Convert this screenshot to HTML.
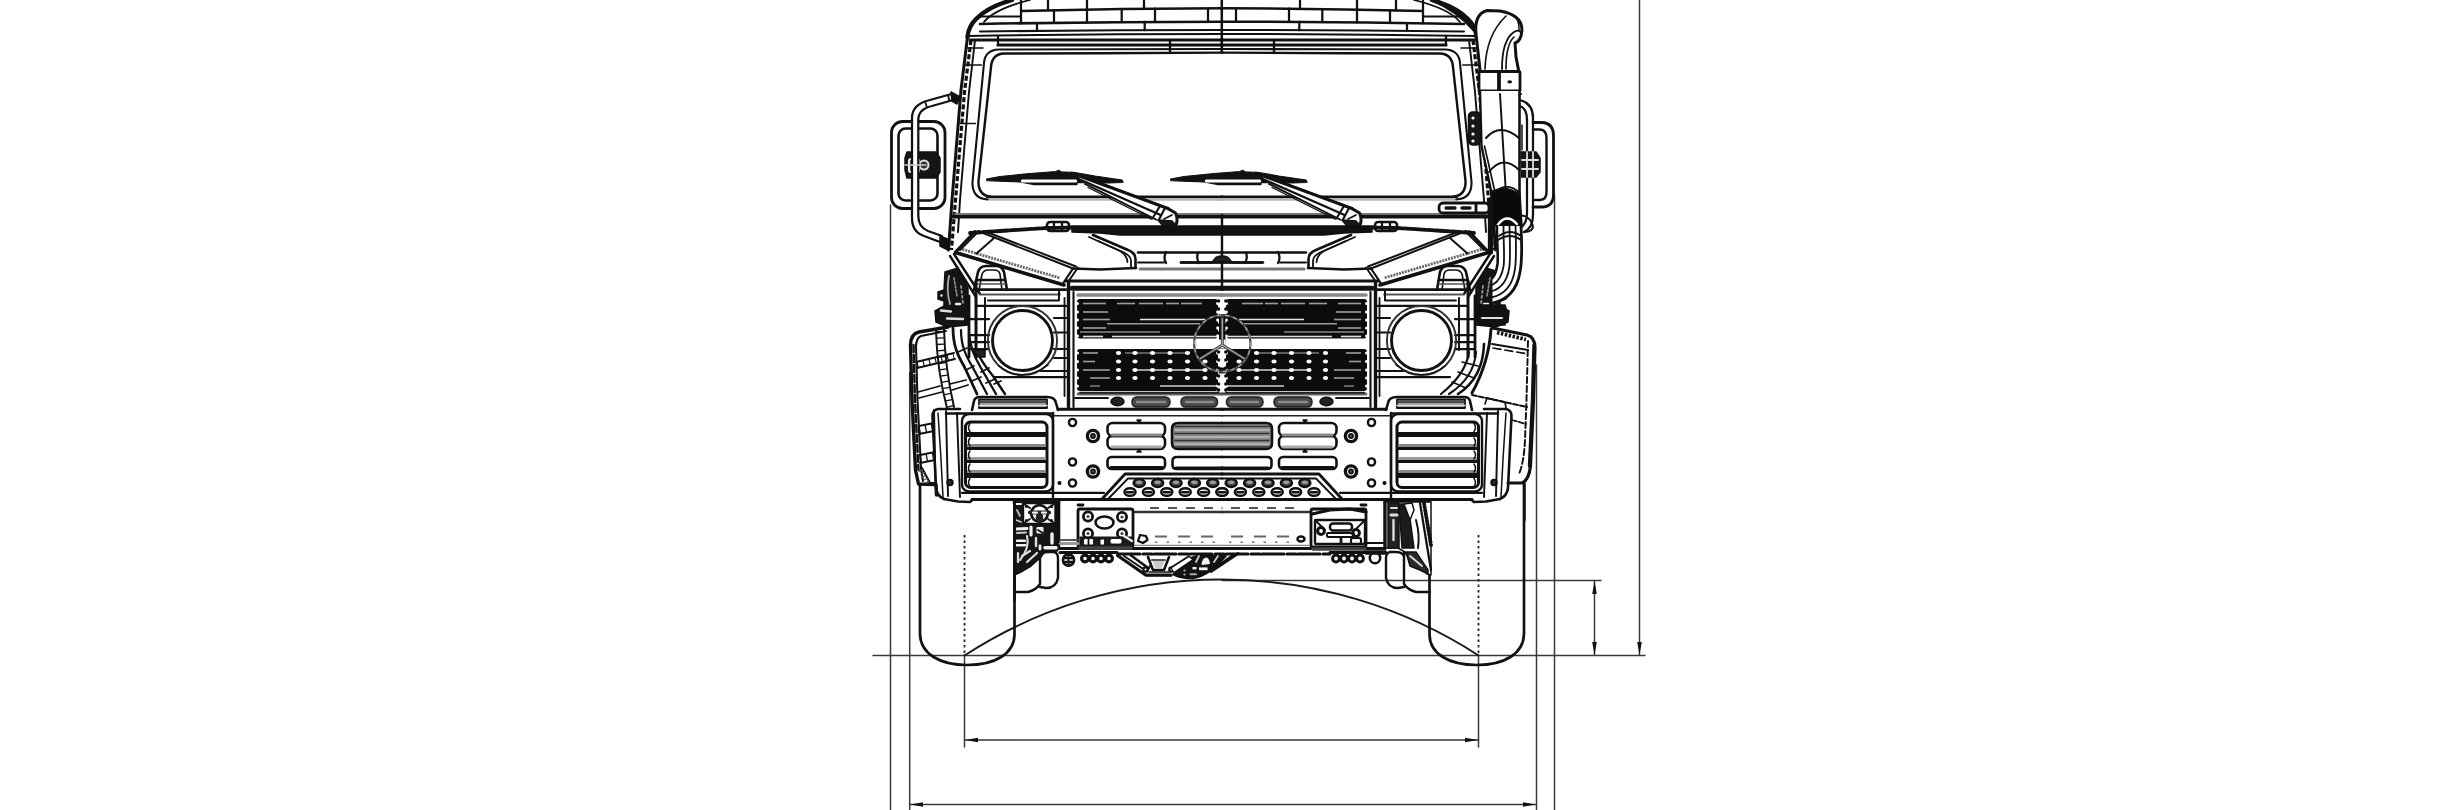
<!DOCTYPE html>
<html><head><meta charset="utf-8"><title>Front view</title>
<style>
html,body{margin:0;padding:0;background:#fff;font-family:"Liberation Sans",sans-serif;}
svg{display:block;filter:blur(0.55px)}
</style></head><body>
<svg width="2440" height="810" viewBox="0 0 2440 810" stroke-linecap="round" stroke-linejoin="round">
<rect x="0" y="0" width="2440" height="810" fill="#fff"/>
<g id="dims">
<path d="M873 655.5L1645 655.5" stroke="#3a3a3a" stroke-width="1.5" fill="none" />
<path d="M890.5 205L890.5 810" stroke="#3a3a3a" stroke-width="1.5" fill="none" />
<path d="M909.7 372L909.7 810" stroke="#3a3a3a" stroke-width="1.5" fill="none" />
<path d="M1536.5 365L1536.5 810" stroke="#3a3a3a" stroke-width="1.5" fill="none" />
<path d="M1554.5 195L1554.5 810" stroke="#3a3a3a" stroke-width="1.5" fill="none" />
<path d="M964.5 655L964.5 747" stroke="#3a3a3a" stroke-width="1.5" fill="none" />
<path d="M1478.5 655L1478.5 747" stroke="#3a3a3a" stroke-width="1.5" fill="none" />
<path d="M964.5 740L1478.5 740" stroke="#3a3a3a" stroke-width="1.5" fill="none" />
<path d="M965 740L978 737.7L978 742.3Z" fill="#111" stroke="none"/>
<path d="M1478 740L1465 737.7L1465 742.3Z" fill="#111" stroke="none"/>
<path d="M909.5 804.5L1536.5 804.5" stroke="#3a3a3a" stroke-width="1.5" fill="none" />
<path d="M910 804.5L923 802.2L923 806.8Z" fill="#111" stroke="none"/>
<path d="M1536 804.5L1523 802.2L1523 806.8Z" fill="#111" stroke="none"/>
<path d="M1639.5 0L1639.5 655" stroke="#3a3a3a" stroke-width="1.5" fill="none" />
<path d="M1639.5 655L1637.2 642L1641.8 642Z" fill="#111" stroke="none"/>
<path d="M1222 580.5L1601 580.5" stroke="#3a3a3a" stroke-width="1.5" fill="none" />
<path d="M1594.5 581L1594.5 655" stroke="#3a3a3a" stroke-width="1.5" fill="none" />
<path d="M1594.5 581L1592.2 594L1596.8 594Z" fill="#111" stroke="none"/>
<path d="M1594.5 655L1592.2 642L1596.8 642Z" fill="#111" stroke="none"/>
<path d="M964.5 655.5A472.5 472.5 0 0 1 1478.5 655.5" stroke="#1a1a1a" stroke-width="1.88" fill="none" />
<path d="M964.5 535L964.5 655" stroke="#222" stroke-width="1.8" fill="none" stroke-dasharray="2.5 3" stroke-linecap="butt"/>
<path d="M1478.5 535L1478.5 655" stroke="#222" stroke-width="1.8" fill="none" stroke-dasharray="2.5 3" stroke-linecap="butt"/>
</g>
<g id="halfL">
<path d="M1012 0C998 4 985 10 976 19C970 25 968 31 967.5 37" stroke="#111" stroke-width="4.4" fill="none" />
<path d="M980 16.5L1021 16.5" stroke="#111" stroke-width="1.95" fill="none" />
<path d="M966.0 48L983.0 48" stroke="#111" stroke-width="1.5" fill="none" />
<path d="M964.3 65L981.3 65" stroke="#111" stroke-width="1.5" fill="none" />
<path d="M958.45 123.5L975.45 123.5" stroke="#111" stroke-width="1.5" fill="none" />
<path d="M1030 0C1010 5 992 12 984 22" stroke="#111" stroke-width="1.8" fill="none" />
<path d="M967.5 37L961 90L952 200L948.5 250" stroke="#111" stroke-width="3.0" fill="none" />
<path d="M971 40L964.5 92L955.5 200L951.5 250" stroke="#111" stroke-width="3.2" fill="none" stroke-dasharray="5 2.2" stroke-linecap="butt"/>
<path d="M975 40L969 92L960 200L958 232" stroke="#111" stroke-width="1.95" fill="none" />
<path d="M1021 11Q1121.5 8.3 1222.5 8.3" stroke="#111" stroke-width="2.4" fill="none" />
<path d="M980 24Q1101.0 21.7 1222.5 21.7" stroke="#111" stroke-width="2.6" fill="none" />
<path d="M980 31.5Q1101.0 30 1222.5 30" stroke="#111" stroke-width="2.1" fill="none" />
<path d="M968 36Q1095.0 34 1222.5 34" stroke="#111" stroke-width="1.95" fill="none" />
<path d="M970 40L1222.5 40" stroke="#111" stroke-width="2.8" fill="none" />
<path d="M998 45L1222.5 45" stroke="#111" stroke-width="3.2" fill="none" />
<path d="M1021 0L1021 23.3" stroke="#111" stroke-width="2.25" fill="none" />
<path d="M1087 0L1087 22.4" stroke="#111" stroke-width="2.25" fill="none" />
<path d="M1048 0L1048 10.3" stroke="#111" stroke-width="2.25" fill="none" />
<path d="M1144 0L1144 8.7" stroke="#111" stroke-width="2.25" fill="none" />
<path d="M1054 10.2L1054 22.8" stroke="#111" stroke-width="2.25" fill="none" />
<path d="M1121.7 9.0L1121.7 22.1" stroke="#111" stroke-width="2.25" fill="none" />
<path d="M1155 8.6L1155 21.9" stroke="#111" stroke-width="2.25" fill="none" />
<path d="M1208 8.3L1208 21.7" stroke="#111" stroke-width="2.25" fill="none" />
<path d="M1037 23.0L1037 30.9" stroke="#111" stroke-width="2.25" fill="none" />
<path d="M1144.7 21.9L1144.7 30.2" stroke="#111" stroke-width="2.25" fill="none" />
<path d="M998 36L998 45" stroke="#111" stroke-width="2.25" fill="none" />
<path d="M1170 41L1170 52" stroke="#111" stroke-width="2.4" fill="none" />
<path d="M1222.5 49L1100 49.3L999 49.5Q985 50 984 63L972.5 182Q972 199 988 199.5" stroke="#111" stroke-width="2.1" fill="none" />
<path d="M1222.5 52.6L1100 53.2L1004 53.5Q992 54 991 67L978.5 181Q978 195 990 196.5" stroke="#111" stroke-width="2.4" fill="none" />
<path d="M987 196.8L1222.5 196.8" stroke="#111" stroke-width="2.8" fill="none" />
<path d="M990 199.4L1222.5 199.4" stroke="#b5b5b5" stroke-width="2.8" fill="none" />
<path d="M955 214L1222.5 214" stroke="#777" stroke-width="2.1" fill="none" />
<path d="M952 216.8L1222.5 216.8" stroke="#111" stroke-width="3.4" fill="none" />
<path d="M970 233L1000 231L1046 228L1072 227.5" stroke="#111" stroke-width="3.8" fill="none" stroke-dasharray="14 1.5 7 1.5"/>
<path d="M1072 226L1222.5 226L1222.5 235L1120 235L1100 233L1072 232Z" stroke="#111" stroke-width="1.5" fill="#111" />
<rect x="1047" y="222" width="22" height="9" rx="3" ry="3" stroke="#111" stroke-width="2.6" fill="none"/>
<path d="M1054 223L1054 230" stroke="#111" stroke-width="2.25" fill="none" />
<path d="M1062 223L1062 230" stroke="#111" stroke-width="2.25" fill="none" />
<path d="M955.5 252.5L1064 285" stroke="#111" stroke-width="3.6" fill="none" />
<path d="M959.5 248.5L1060 278" stroke="#666" stroke-width="2.8" fill="none" stroke-dasharray="2 1" stroke-linecap="butt"/>
<path d="M955.5 252L975 231.5" stroke="#111" stroke-width="3.0" fill="none" />
<path d="M960 250L978 232" stroke="#111" stroke-width="1.8" fill="none" />
<path d="M978 231L1073 268.5" stroke="#111" stroke-width="1.95" fill="none" />
<path d="M984 231L1076 266.5" stroke="#111" stroke-width="1.95" fill="none" />
<path d="M993.5 238.5L976.5 253.5" stroke="#111" stroke-width="1.95" fill="none" />
<path d="M1073 268.5L1063 283.5" stroke="#111" stroke-width="2.25" fill="none" />
<path d="M1078 267.5L1068 282" stroke="#111" stroke-width="1.95" fill="none" />
<path d="M1073 268.5L1100 269.5L1136 268" stroke="#111" stroke-width="2.6" fill="none" />
<path d="M1093 235L1128 250Q1135.5 253 1135.5 259L1135.5 268" stroke="#111" stroke-width="2.6" fill="none" />
<path d="M1098 241L1124 252.5Q1131 256 1131 261L1131 267" stroke="#111" stroke-width="1.8" fill="none" />
<path d="M1089 237L1120 251Q1127 255 1127.5 262" stroke="#111" stroke-width="1.8" fill="none" />
<path d="M1138 252.5L1222.5 252.5" stroke="#111" stroke-width="2.4" fill="none" />
<path d="M1138 262.5L1164 262.5" stroke="#111" stroke-width="1.95" fill="none" />
<path d="M1181 262.5L1212 262.5" stroke="#111" stroke-width="2.6" fill="none" />
<path d="M1140 269L1222.5 269" stroke="#777" stroke-width="3.0" fill="none" />
<path d="M1166 252Q1163 258 1166 263" stroke="#111" stroke-width="2.25" fill="none" />
<path d="M1198 253Q1196 258 1199 263" stroke="#111" stroke-width="2.25" fill="none" />
<path d="M1066 281L1222.5 281" stroke="#111" stroke-width="3.0" fill="none" />
<path d="M1072 288.3L1222.5 288.3" stroke="#111" stroke-width="5.0" fill="none" />
<path d="M1078 295L1222.5 295" stroke="#888" stroke-width="3.4" fill="none" />
<path d="M974 290L978 272Q980 266 986 266L996 266Q1002 266 1004 272L1007 290" stroke="#111" stroke-width="2.6" fill="none" />
<path d="M979 290L982 274Q984 270 988 270L994 270Q999 270 1000 274L1002 290" stroke="#111" stroke-width="1.65" fill="none" />
<path d="M977 280L1005 280" stroke="#111" stroke-width="2.4" fill="none" />
<path d="M977 284L1005 284" stroke="#555" stroke-width="1.5" fill="none" />
<path d="M950 256L976 297" stroke="#111" stroke-width="2.4" fill="none" />
<path d="M954 254L980 294" stroke="#111" stroke-width="2.4" fill="none" />
<path d="M974 289.7L1066 289.7" stroke="#111" stroke-width="2.7" fill="none" />
<path d="M980 294.5L1060 294.5" stroke="#555" stroke-width="1.8" fill="none" />
<path d="M988 300.4L1059 300.4L1059 291" stroke="#111" stroke-width="1.95" fill="none" />
<path d="M977 305.9L1066 305.9" stroke="#111" stroke-width="2.4" fill="none" />
<path d="M969 296L969 357" stroke="#111" stroke-width="2.8" fill="none" />
<path d="M976 281L976 357" stroke="#111" stroke-width="3.0" fill="none" />
<path d="M985 298L985 350" stroke="#111" stroke-width="1.95" fill="none" />
<path d="M994 377L1067 377" stroke="#111" stroke-width="2.25" fill="none" />
<path d="M1040 371L1067 371" stroke="#111" stroke-width="1.8" fill="none" />
<path d="M1054 318L1067 318" stroke="#111" stroke-width="2.1" fill="none" />
<path d="M1054 332.5L1067 332.5" stroke="#111" stroke-width="2.1" fill="none" />
<path d="M1054 349L1067 349" stroke="#111" stroke-width="2.1" fill="none" />
<path d="M1054 358L1067 358" stroke="#111" stroke-width="2.1" fill="none" />
<path d="M969 319L989 319" stroke="#111" stroke-width="2.25" fill="none" />
<path d="M969 335L989 335" stroke="#111" stroke-width="2.25" fill="none" />
<path d="M969 342L989 342" stroke="#111" stroke-width="2.25" fill="none" />
<path d="M969 349L989 349" stroke="#111" stroke-width="2.25" fill="none" />
<circle cx="1022.5" cy="340.5" r="34.6" stroke="#333" stroke-width="1.95" fill="none"/>
<circle cx="1022.5" cy="340.5" r="30.0" stroke="#111" stroke-width="2.9" fill="#fff"/>
<path d="M999 366Q1022 384 1048 365" stroke="#111" stroke-width="1.5" fill="none" />
<path d="M945 272L958 268L968 288L968 325L948 327L936 322L935 311L944 306L944 301L938 299L938 292L944 290Z" stroke="#111" stroke-width="1.5" fill="#141414" />
<path d="M949 276Q946 290 950 304" stroke="#aaa" stroke-width="1.8" fill="none" />
<path d="M954 278L957 296" stroke="#888" stroke-width="1.8" fill="none" stroke-dasharray="2 2"/>
<path d="M961 286L963 304" stroke="#999" stroke-width="1.8" fill="none" stroke-dasharray="2 3"/>
<path d="M941 310.5L951 311.5" stroke="#ddd" stroke-width="2.4" fill="none" />
<path d="M947 318.5L963 319" stroke="#ddd" stroke-width="2.4" fill="none" />
<circle cx="941.5" cy="295.5" r="1.3" stroke="#111" stroke-width="0.0" fill="#ddd"/>
<path d="M956 304L960 304" stroke="#eee" stroke-width="2.4" fill="none" />
<path d="M920 485L920 634C920.5 654 940 665 967 665C995 665 1014.5 654 1014.5 634L1014.5 502" stroke="#111" stroke-width="2.7" fill="none" />
<path d="M972 410L974 401Q975 397 980 397L1047 397Q1055 397 1056 403L1058 410" stroke="#111" stroke-width="2.6" fill="none" />
<rect x="979" y="399.5" width="68" height="8.5" rx="0" ry="0" stroke="#111" stroke-width="1.8" fill="#9a9a9a"/>
<path d="M979 402L1047 402" stroke="#333" stroke-width="1.5" fill="none" />
<path d="M979 405.5L1047 405.5" stroke="#ddd" stroke-width="1.5" fill="none" />
<path d="M946 413.5L1053 413.5" stroke="#111" stroke-width="2.4" fill="none" />
<path d="M1058 409.3L1222.5 409.3" stroke="#111" stroke-width="3.0" fill="none" />
<path d="M1053 415.7L1222.5 415.7" stroke="#222" stroke-width="1.5" fill="none" />
<path d="M960 409L938 409Q932.5 410 932.5 416L936 488Q937 496 944 499" stroke="#111" stroke-width="2.6" fill="none" />
<path d="M946 411L948 496" stroke="#111" stroke-width="1.95" fill="none" />
<path d="M957 413L960 497" stroke="#111" stroke-width="1.95" fill="none" />
<path d="M938 413Q941 455 943 497" stroke="#111" stroke-width="1.5" fill="none" />
<circle cx="950" cy="482.5" r="2.6" stroke="#111" stroke-width="2.25" fill="#333"/>
<path d="M962 492.8L1104 492.8" stroke="#111" stroke-width="2.25" fill="none" />
<path d="M944 499L958 501.5L970 502L973 499.5" stroke="#111" stroke-width="2.4" fill="none" />
<rect x="962" y="414" width="91" height="77.5" rx="7" ry="7" stroke="#111" stroke-width="2.4" fill="none"/>
<rect x="965.5" y="422" width="81.5" height="65.5" rx="5" ry="5" stroke="#111" stroke-width="3.0" fill="none"/>
<rect x="967" y="432" width="79" height="5" fill="#111"/>
<rect x="967" y="447" width="79" height="3" fill="#111"/>
<rect x="967" y="460" width="79" height="3" fill="#111"/>
<rect x="967" y="473" width="79" height="5" fill="#111"/>
<rect x="967" y="444" width="79" height="3" fill="#888"/>
<rect x="967" y="457" width="79" height="3" fill="#999"/>
<rect x="967" y="470" width="79" height="3" fill="#888"/>
<path d="M970 423.5Q967 427.5 970 431.5" stroke="#111" stroke-width="1.5" fill="none" />
<path d="M970 438Q967 442 970 446" stroke="#111" stroke-width="1.5" fill="none" />
<path d="M970 451Q967 455 970 459" stroke="#111" stroke-width="1.5" fill="none" />
<path d="M970 464Q967 468 970 472" stroke="#111" stroke-width="1.5" fill="none" />
<path d="M970 478.5Q967 482.5 970 486.5" stroke="#111" stroke-width="1.5" fill="none" />
<path d="M1053 413L1053 499" stroke="#111" stroke-width="2.4" fill="none" />
<circle cx="1072.5" cy="422.5" r="3.6" stroke="#111" stroke-width="2.4" fill="none"/>
<circle cx="1072.5" cy="462" r="3.6" stroke="#111" stroke-width="2.4" fill="none"/>
<circle cx="1072.5" cy="483" r="3.6" stroke="#111" stroke-width="2.4" fill="none"/>
<circle cx="1093" cy="436" r="5.6" stroke="#111" stroke-width="3.4" fill="none"/>
<circle cx="1093" cy="436" r="2.0" stroke="#111" stroke-width="1.8" fill="#555"/>
<circle cx="1093" cy="471.5" r="5.6" stroke="#111" stroke-width="3.4" fill="none"/>
<circle cx="1093" cy="471.5" r="2.0" stroke="#111" stroke-width="1.8" fill="#555"/>
<circle cx="1059.5" cy="483" r="1.3" stroke="#111" stroke-width="1.5" fill="#111"/>
<rect x="1107.5" y="423" width="57.5" height="13" rx="5" ry="5" stroke="#111" stroke-width="2.6" fill="none"/>
<rect x="1107.5" y="436" width="57.5" height="13" rx="5" ry="5" stroke="#111" stroke-width="2.6" fill="none"/>
<path d="M1112 435L1161 435" stroke="#888" stroke-width="2.8" fill="none" />
<path d="M1112 447L1161 447" stroke="#aaa" stroke-width="2.8" fill="none" />
<rect x="1107.5" y="457" width="57.5" height="12" rx="4" ry="4" stroke="#111" stroke-width="2.6" fill="none"/>
<path d="M1111 467.5L1162 467.5" stroke="#111" stroke-width="2.8" fill="none" />
<path d="M1137 420L1139 422.5L1141 420Z" stroke="#111" stroke-width="1.5" fill="#111" />
<path d="M1137 452L1139 449.5L1141 452Z" stroke="#111" stroke-width="1.5" fill="#111" />
<path d="M1222.5 423L1178 423Q1172 423 1172 429L1172 443Q1172 449 1178 449L1222.5 449" stroke="#111" stroke-width="2.6" fill="#8a8a8a" />
<path d="M1175 426.5L1222.5 426.5" stroke="#333" stroke-width="1.65" fill="none" />
<path d="M1175 430L1222.5 430" stroke="#bbb" stroke-width="1.65" fill="none" />
<path d="M1175 433.5L1222.5 433.5" stroke="#333" stroke-width="1.65" fill="none" />
<path d="M1175 437L1222.5 437" stroke="#bbb" stroke-width="1.65" fill="none" />
<path d="M1175 440.5L1222.5 440.5" stroke="#333" stroke-width="1.65" fill="none" />
<path d="M1175 444L1222.5 444" stroke="#bbb" stroke-width="1.65" fill="none" />
<path d="M1175 447L1222.5 447" stroke="#333" stroke-width="1.65" fill="none" />
<path d="M1222.5 457L1177 457Q1172.5 457 1172.5 461L1172.5 465Q1172.5 469 1177 469L1222.5 469" stroke="#111" stroke-width="2.6" fill="none" />
<path d="M1176 467.8L1222.5 467.8" stroke="#111" stroke-width="2.8" fill="none" />
<path d="M1222.5 474L1125 474L1102 499" stroke="#111" stroke-width="2.8" fill="none" />
<path d="M1222.5 478.5L1128 478.5L1108 499" stroke="#111" stroke-width="1.8" fill="none" />
<path d="M972 499.5L1222.5 499.5" stroke="#111" stroke-width="3.2" fill="none" />
<ellipse cx="1222.0" cy="492" rx="5.6" ry="3.8" stroke="#111" stroke-width="2.4" fill="#fff"/>
<path d="M1219.0 492.3L1225.0 492.3" stroke="#111" stroke-width="2.4" fill="none" />
<ellipse cx="1203.6" cy="492" rx="5.6" ry="3.8" stroke="#111" stroke-width="2.4" fill="#fff"/>
<path d="M1200.6 492.3L1206.6 492.3" stroke="#111" stroke-width="2.4" fill="none" />
<ellipse cx="1185.1999999999998" cy="492" rx="5.6" ry="3.8" stroke="#111" stroke-width="2.4" fill="#fff"/>
<path d="M1182.1999999999998 492.3L1188.1999999999998 492.3" stroke="#111" stroke-width="2.4" fill="none" />
<ellipse cx="1166.7999999999997" cy="492" rx="5.6" ry="3.8" stroke="#111" stroke-width="2.4" fill="#fff"/>
<path d="M1163.7999999999997 492.3L1169.7999999999997 492.3" stroke="#111" stroke-width="2.4" fill="none" />
<ellipse cx="1148.3999999999996" cy="492" rx="5.6" ry="3.8" stroke="#111" stroke-width="2.4" fill="#fff"/>
<path d="M1145.3999999999996 492.3L1151.3999999999996 492.3" stroke="#111" stroke-width="2.4" fill="none" />
<ellipse cx="1129.9999999999995" cy="492" rx="5.6" ry="3.8" stroke="#111" stroke-width="2.4" fill="#fff"/>
<path d="M1126.9999999999995 492.3L1132.9999999999995 492.3" stroke="#111" stroke-width="2.4" fill="none" />
<ellipse cx="1212.8" cy="483" rx="5.6" ry="4.0" stroke="#111" stroke-width="2.4" fill="#444"/>
<ellipse cx="1212.8" cy="482.2" rx="3.2" ry="1.8" stroke="#111" stroke-width="0.0" fill="#999"/>
<ellipse cx="1194.3999999999999" cy="483" rx="5.6" ry="4.0" stroke="#111" stroke-width="2.4" fill="#444"/>
<ellipse cx="1194.3999999999999" cy="482.2" rx="3.2" ry="1.8" stroke="#111" stroke-width="0.0" fill="#999"/>
<ellipse cx="1175.9999999999998" cy="483" rx="5.6" ry="4.0" stroke="#111" stroke-width="2.4" fill="#444"/>
<ellipse cx="1175.9999999999998" cy="482.2" rx="3.2" ry="1.8" stroke="#111" stroke-width="0.0" fill="#999"/>
<ellipse cx="1157.5999999999997" cy="483" rx="5.6" ry="4.0" stroke="#111" stroke-width="2.4" fill="#444"/>
<ellipse cx="1157.5999999999997" cy="482.2" rx="3.2" ry="1.8" stroke="#111" stroke-width="0.0" fill="#999"/>
<ellipse cx="1139.1999999999996" cy="483" rx="5.6" ry="4.0" stroke="#111" stroke-width="2.4" fill="#444"/>
<ellipse cx="1139.1999999999996" cy="482.2" rx="3.2" ry="1.8" stroke="#111" stroke-width="0.0" fill="#999"/>
<path d="M1068.5 283L1068.5 407" stroke="#111" stroke-width="3.4" fill="none" />
<path d="M1073.5 292L1073.5 407" stroke="#111" stroke-width="2.1" fill="none" />
<path d="M1064.5 298L1064.5 396" stroke="#111" stroke-width="1.8" fill="none" />
<rect x="1077" y="299" width="141" height="39.5" rx="3" fill="#0c0c0c"/>
<rect x="1077" y="349" width="141" height="42" rx="3" fill="#0c0c0c"/>
<path d="M1083 303.5L1106 303.5" stroke="#9a9a9a" stroke-width="1.65" fill="none" stroke-linecap="butt"/>
<path d="M1117 303.5L1135 303.5" stroke="#9a9a9a" stroke-width="1.65" fill="none" stroke-linecap="butt"/>
<path d="M1139 303.5L1163 303.5" stroke="#9a9a9a" stroke-width="1.65" fill="none" stroke-linecap="butt"/>
<path d="M1166 303.5L1179 303.5" stroke="#9a9a9a" stroke-width="1.65" fill="none" stroke-linecap="butt"/>
<path d="M1181 303.5L1202 303.5" stroke="#9a9a9a" stroke-width="1.65" fill="none" stroke-linecap="butt"/>
<path d="M1083 312L1108 312" stroke="#9a9a9a" stroke-width="1.65" fill="none" stroke-linecap="butt"/>
<path d="M1083 319.5L1110 319.5" stroke="#9a9a9a" stroke-width="1.65" fill="none" stroke-linecap="butt"/>
<path d="M1140 319.5L1205 319.5" stroke="#e8e8e8" stroke-width="1.65" fill="none" stroke-linecap="butt"/>
<path d="M1107 323.7L1200 323.7" stroke="#9a9a9a" stroke-width="1.65" fill="none" stroke-linecap="butt"/>
<path d="M1083 328L1106 328" stroke="#9a9a9a" stroke-width="1.65" fill="none" stroke-linecap="butt"/>
<path d="M1080 332L1160 332" stroke="#8a8a8a" stroke-width="1.65" fill="none" stroke-linecap="butt"/>
<path d="M1083 336.5L1103 336.5" stroke="#e0e0e0" stroke-width="1.65" fill="none" stroke-linecap="butt"/>
<path d="M1112 336.5L1218 336.5" stroke="#e0e0e0" stroke-width="1.65" fill="none" stroke-linecap="butt"/>
<path d="M1083 353L1098 353" stroke="#9a9a9a" stroke-width="1.65" fill="none" stroke-linecap="butt"/>
<path d="M1083 361.5L1095 361.5" stroke="#9a9a9a" stroke-width="1.65" fill="none" stroke-linecap="butt"/>
<path d="M1083 370L1110 370" stroke="#9a9a9a" stroke-width="1.65" fill="none" stroke-linecap="butt"/>
<path d="M1135 370L1205 370" stroke="#cfcfcf" stroke-width="1.65" fill="none" stroke-linecap="butt"/>
<path d="M1090 378L1110 378" stroke="#9a9a9a" stroke-width="1.65" fill="none" stroke-linecap="butt"/>
<path d="M1090 386L1100 386" stroke="#777" stroke-width="1.65" fill="none" stroke-linecap="butt"/>
<path d="M1160 386L1217 386" stroke="#cfcfcf" stroke-width="1.65" fill="none" stroke-linecap="butt"/>
<path d="M1125 353L1190 353" stroke="#777" stroke-width="1.65" fill="none" stroke-linecap="butt"/>
<ellipse cx="1118.5" cy="353" rx="2.6" ry="2.0" stroke="#111" stroke-width="0.0" fill="#fff"/>
<ellipse cx="1135" cy="353" rx="2.6" ry="2.0" stroke="#111" stroke-width="0.0" fill="#fff"/>
<ellipse cx="1152.5" cy="353" rx="2.6" ry="2.0" stroke="#111" stroke-width="0.0" fill="#fff"/>
<ellipse cx="1170" cy="353" rx="2.6" ry="2.0" stroke="#111" stroke-width="0.0" fill="#fff"/>
<ellipse cx="1187.5" cy="353" rx="2.6" ry="2.0" stroke="#111" stroke-width="0.0" fill="#fff"/>
<ellipse cx="1118.5" cy="361.5" rx="2.6" ry="2.0" stroke="#111" stroke-width="0.0" fill="#fff"/>
<ellipse cx="1135" cy="361.5" rx="2.6" ry="2.0" stroke="#111" stroke-width="0.0" fill="#fff"/>
<ellipse cx="1152.5" cy="361.5" rx="2.6" ry="2.0" stroke="#111" stroke-width="0.0" fill="#fff"/>
<ellipse cx="1170" cy="361.5" rx="2.6" ry="2.0" stroke="#111" stroke-width="0.0" fill="#fff"/>
<ellipse cx="1187.5" cy="361.5" rx="2.6" ry="2.0" stroke="#111" stroke-width="0.0" fill="#fff"/>
<ellipse cx="1205" cy="361.5" rx="2.6" ry="2.0" stroke="#111" stroke-width="0.0" fill="#fff"/>
<ellipse cx="1118.5" cy="370" rx="2.6" ry="2.0" stroke="#111" stroke-width="0.0" fill="#fff"/>
<ellipse cx="1135" cy="370" rx="2.6" ry="2.0" stroke="#111" stroke-width="0.0" fill="#fff"/>
<ellipse cx="1152.5" cy="370" rx="2.6" ry="2.0" stroke="#111" stroke-width="0.0" fill="#fff"/>
<ellipse cx="1170" cy="370" rx="2.6" ry="2.0" stroke="#111" stroke-width="0.0" fill="#fff"/>
<ellipse cx="1187.5" cy="370" rx="2.6" ry="2.0" stroke="#111" stroke-width="0.0" fill="#fff"/>
<ellipse cx="1205" cy="370" rx="2.6" ry="2.0" stroke="#111" stroke-width="0.0" fill="#fff"/>
<ellipse cx="1118.5" cy="378" rx="2.6" ry="2.0" stroke="#111" stroke-width="0.0" fill="#fff"/>
<ellipse cx="1135" cy="378" rx="2.6" ry="2.0" stroke="#111" stroke-width="0.0" fill="#fff"/>
<ellipse cx="1152.5" cy="378" rx="2.6" ry="2.0" stroke="#111" stroke-width="0.0" fill="#fff"/>
<ellipse cx="1170" cy="378" rx="2.6" ry="2.0" stroke="#111" stroke-width="0.0" fill="#fff"/>
<ellipse cx="1187.5" cy="378" rx="2.6" ry="2.0" stroke="#111" stroke-width="0.0" fill="#fff"/>
<ellipse cx="1205" cy="378" rx="2.6" ry="2.0" stroke="#111" stroke-width="0.0" fill="#fff"/>
<circle cx="1077.5" cy="303.5" r="1.5" stroke="#111" stroke-width="0.0" fill="#fff"/>
<circle cx="1217.8" cy="303.5" r="1.7" stroke="#111" stroke-width="0.0" fill="#fff"/>
<circle cx="1077.5" cy="312" r="1.5" stroke="#111" stroke-width="0.0" fill="#fff"/>
<circle cx="1217.8" cy="312" r="1.7" stroke="#111" stroke-width="0.0" fill="#fff"/>
<circle cx="1077.5" cy="320" r="1.5" stroke="#111" stroke-width="0.0" fill="#fff"/>
<circle cx="1217.8" cy="320" r="1.7" stroke="#111" stroke-width="0.0" fill="#fff"/>
<circle cx="1077.5" cy="328" r="1.5" stroke="#111" stroke-width="0.0" fill="#fff"/>
<circle cx="1217.8" cy="328" r="1.7" stroke="#111" stroke-width="0.0" fill="#fff"/>
<circle cx="1077.5" cy="336" r="1.5" stroke="#111" stroke-width="0.0" fill="#fff"/>
<circle cx="1217.8" cy="336" r="1.7" stroke="#111" stroke-width="0.0" fill="#fff"/>
<circle cx="1077.5" cy="353" r="1.5" stroke="#111" stroke-width="0.0" fill="#fff"/>
<circle cx="1217.8" cy="353" r="1.7" stroke="#111" stroke-width="0.0" fill="#fff"/>
<circle cx="1077.5" cy="361.5" r="1.5" stroke="#111" stroke-width="0.0" fill="#fff"/>
<circle cx="1217.8" cy="361.5" r="1.7" stroke="#111" stroke-width="0.0" fill="#fff"/>
<circle cx="1077.5" cy="370" r="1.5" stroke="#111" stroke-width="0.0" fill="#fff"/>
<circle cx="1217.8" cy="370" r="1.7" stroke="#111" stroke-width="0.0" fill="#fff"/>
<circle cx="1077.5" cy="378" r="1.5" stroke="#111" stroke-width="0.0" fill="#fff"/>
<circle cx="1217.8" cy="378" r="1.7" stroke="#111" stroke-width="0.0" fill="#fff"/>
<circle cx="1077.5" cy="386" r="1.5" stroke="#111" stroke-width="0.0" fill="#fff"/>
<circle cx="1217.8" cy="386" r="1.7" stroke="#111" stroke-width="0.0" fill="#fff"/>
<path d="M1078 394L1222.5 394" stroke="#666" stroke-width="2.8" fill="none" />
<ellipse cx="1117.5" cy="401.5" rx="6.5" ry="4.2" stroke="#111" stroke-width="1.5" fill="#222"/>
<rect x="1132" y="397" width="38" height="10" rx="4.5" fill="#4a4a4a" stroke="#1a1a1a" stroke-width="1.4"/>
<rect x="1181" y="397" width="36.5" height="10" rx="4.5" fill="#4a4a4a" stroke="#1a1a1a" stroke-width="1.4"/>
<path d="M1137 402L1165 402" stroke="#8a8a8a" stroke-width="2.4" fill="none" />
<path d="M1186 402L1213 402" stroke="#8a8a8a" stroke-width="2.4" fill="none" />
<path d="M1080 392.8L1222.5 392.8" stroke="#222" stroke-width="1.95" fill="none" />
<path d="M1075 398L1108 398" stroke="#111" stroke-width="1.8" fill="none" />
<path d="M1059 500L1059 547" stroke="#111" stroke-width="2.6" fill="none" />
<path d="M1014 502.5L1059 502.5" stroke="#111" stroke-width="2.8" fill="none" />
<path d="M1059 543L1078 543" stroke="#111" stroke-width="1.95" fill="none" />
<path d="M1059 548.6L1222.5 548.6" stroke="#111" stroke-width="3.0" fill="none" />
<path d="M1135 545.3L1222.5 545.3" stroke="#888" stroke-width="1.2" fill="none" />
<path d="M1135 512L1222.5 512" stroke="#333" stroke-width="2.4" fill="none" />
<path d="M1150 508L1222.5 508" stroke="#555" stroke-width="2.1" fill="none" stroke-dasharray="9 9" stroke-linecap="butt"/>
<path d="M1155 536.5L1222.5 536.5" stroke="#666" stroke-width="2.1" fill="none" stroke-dasharray="12 11" stroke-linecap="butt"/>
<path d="M1155 542.3L1222.5 542.3" stroke="#777" stroke-width="1.5" fill="none" stroke-dasharray="2.5 9 2.5 9" stroke-linecap="butt"/>
<rect x="1078" y="509" width="55" height="38" rx="2" ry="2" stroke="#111" stroke-width="2.8" fill="none"/>
<path d="M1078 505L1083 505" stroke="#111" stroke-width="2.8" fill="none" />
<path d="M1014 553L1040 553L1040 584Q1036 590 1028 592L1014 592" stroke="#111" stroke-width="2.4" fill="none" />
<path d="M1040 556Q1042 552 1048 552L1054 552Q1058 553 1058 558L1058 578Q1056 588 1046 588L1040 587" stroke="#111" stroke-width="2.4" fill="none" />
<path d="M948 327L919 332Q910.5 334 910.5 345L912 400L915.5 470L918.5 484L936 484.5L936.5 495" stroke="#111" stroke-width="3.4" fill="none" />
<path d="M946 331L921 336Q916 338 916 347L917.5 400L921 468L923 481" stroke="#111" stroke-width="2.1" fill="none" />
<path d="M913.5 345L915 400L918.5 470" stroke="#111" stroke-width="2.4" fill="none" stroke-dasharray="7 3"/>
<path d="M936 331Q937 370 947 408" stroke="#111" stroke-width="1.95" fill="none" />
<path d="M944 329Q945 368 954 407" stroke="#111" stroke-width="1.95" fill="none" />
<path d="M940 331Q941 370 950 408" stroke="#111" stroke-width="7.3" fill="none" stroke-dasharray="1.3 5" stroke-linecap="butt"/>
<path d="M916 362L954 353" stroke="#111" stroke-width="1.8" fill="none" />
<path d="M917 368L955 359" stroke="#111" stroke-width="1.8" fill="none" />
<path d="M917 365L954 356" stroke="#111" stroke-width="5.8" fill="none" stroke-dasharray="1.2 5" stroke-linecap="butt"/>
<path d="M918 392L940 386" stroke="#111" stroke-width="1.8" fill="none" />
<path d="M919 398L942 392" stroke="#111" stroke-width="1.8" fill="none" />
<path d="M950 384L966 380" stroke="#111" stroke-width="1.8" fill="none" />
<path d="M952 390L968 385" stroke="#111" stroke-width="1.8" fill="none" />
<path d="M919 426L934 423M919 434L934 431M920 455L935 452M920 463L935 460" stroke="#111" stroke-width="1.95" fill="none" />
<path d="M919 430L934 427" stroke="#111" stroke-width="6.8" fill="none" stroke-dasharray="1.3 5" stroke-linecap="butt"/>
<path d="M920 459L935 456" stroke="#111" stroke-width="6.8" fill="none" stroke-dasharray="1.3 5" stroke-linecap="butt"/>
<path d="M934 410L935.5 484" stroke="#111" stroke-width="1.95" fill="none" />
<path d="M922 468L930 483L936 483" stroke="#111" stroke-width="2.1" fill="none" />
<path d="M921 470L928 484" stroke="#555" stroke-width="4.8" fill="none" stroke-dasharray="1.2 2" stroke-linecap="butt"/>
<path d="M953 328C953 346 958 356 964 366L977 394" stroke="#111" stroke-width="2.8" fill="none" />
<path d="M961 330C961 346 966 356 972 366L987 394" stroke="#111" stroke-width="2.25" fill="none" />
<path d="M969 334C970 348 975 358 981 368L996 394" stroke="#111" stroke-width="2.4" fill="none" />
<path d="M977 352C982 362 988 370 993 376L1005 394" stroke="#111" stroke-width="2.4" fill="none" />
<path d="M958 352L967 348M966 370L974 366M972 381L981 377M981 372L989 368M986 383L995 379M994 384L1001 381" stroke="#111" stroke-width="1.8" fill="none" />
<path d="M974 350L985 350L985 357L978 357Z" stroke="#111" stroke-width="1.5" fill="#222" />
</g>
<g id="halfR" transform="translate(2444.0,0) scale(-1,1)">
<path d="M1012 0C998 4 985 10 976 19C970 25 968 31 967.5 37" stroke="#111" stroke-width="4.4" fill="none" />
<path d="M980 16.5L1021 16.5" stroke="#111" stroke-width="1.95" fill="none" />
<path d="M966.0 48L983.0 48" stroke="#111" stroke-width="1.5" fill="none" />
<path d="M964.3 65L981.3 65" stroke="#111" stroke-width="1.5" fill="none" />
<path d="M958.45 123.5L975.45 123.5" stroke="#111" stroke-width="1.5" fill="none" />
<path d="M1030 0C1010 5 992 12 984 22" stroke="#111" stroke-width="1.8" fill="none" />
<path d="M967.5 37L961 90L952 200L948.5 250" stroke="#111" stroke-width="3.0" fill="none" />
<path d="M971 40L964.5 92L955.5 200L951.5 250" stroke="#111" stroke-width="3.2" fill="none" stroke-dasharray="5 2.2" stroke-linecap="butt"/>
<path d="M975 40L969 92L960 200L958 232" stroke="#111" stroke-width="1.95" fill="none" />
<path d="M1021 11Q1121.5 8.3 1222.5 8.3" stroke="#111" stroke-width="2.4" fill="none" />
<path d="M980 24Q1101.0 21.7 1222.5 21.7" stroke="#111" stroke-width="2.6" fill="none" />
<path d="M980 31.5Q1101.0 30 1222.5 30" stroke="#111" stroke-width="2.1" fill="none" />
<path d="M968 36Q1095.0 34 1222.5 34" stroke="#111" stroke-width="1.95" fill="none" />
<path d="M970 40L1222.5 40" stroke="#111" stroke-width="2.8" fill="none" />
<path d="M998 45L1222.5 45" stroke="#111" stroke-width="3.2" fill="none" />
<path d="M1021 0L1021 23.3" stroke="#111" stroke-width="2.25" fill="none" />
<path d="M1087 0L1087 22.4" stroke="#111" stroke-width="2.25" fill="none" />
<path d="M1048 0L1048 10.3" stroke="#111" stroke-width="2.25" fill="none" />
<path d="M1144 0L1144 8.7" stroke="#111" stroke-width="2.25" fill="none" />
<path d="M1054 10.2L1054 22.8" stroke="#111" stroke-width="2.25" fill="none" />
<path d="M1121.7 9.0L1121.7 22.1" stroke="#111" stroke-width="2.25" fill="none" />
<path d="M1155 8.6L1155 21.9" stroke="#111" stroke-width="2.25" fill="none" />
<path d="M1208 8.3L1208 21.7" stroke="#111" stroke-width="2.25" fill="none" />
<path d="M1037 23.0L1037 30.9" stroke="#111" stroke-width="2.25" fill="none" />
<path d="M1144.7 21.9L1144.7 30.2" stroke="#111" stroke-width="2.25" fill="none" />
<path d="M998 36L998 45" stroke="#111" stroke-width="2.25" fill="none" />
<path d="M1170 41L1170 52" stroke="#111" stroke-width="2.4" fill="none" />
<path d="M1222.5 49L1100 49.3L999 49.5Q985 50 984 63L972.5 182Q972 199 988 199.5" stroke="#111" stroke-width="2.1" fill="none" />
<path d="M1222.5 52.6L1100 53.2L1004 53.5Q992 54 991 67L978.5 181Q978 195 990 196.5" stroke="#111" stroke-width="2.4" fill="none" />
<path d="M987 196.8L1222.5 196.8" stroke="#111" stroke-width="2.8" fill="none" />
<path d="M990 199.4L1222.5 199.4" stroke="#b5b5b5" stroke-width="2.8" fill="none" />
<path d="M955 214L1222.5 214" stroke="#777" stroke-width="2.1" fill="none" />
<path d="M952 216.8L1222.5 216.8" stroke="#111" stroke-width="3.4" fill="none" />
<path d="M970 233L1000 231L1046 228L1072 227.5" stroke="#111" stroke-width="3.8" fill="none" stroke-dasharray="14 1.5 7 1.5"/>
<path d="M1072 226L1222.5 226L1222.5 235L1120 235L1100 233L1072 232Z" stroke="#111" stroke-width="1.5" fill="#111" />
<rect x="1047" y="222" width="22" height="9" rx="3" ry="3" stroke="#111" stroke-width="2.6" fill="none"/>
<path d="M1054 223L1054 230" stroke="#111" stroke-width="2.25" fill="none" />
<path d="M1062 223L1062 230" stroke="#111" stroke-width="2.25" fill="none" />
<path d="M955.5 252.5L1064 285" stroke="#111" stroke-width="3.6" fill="none" />
<path d="M959.5 248.5L1060 278" stroke="#666" stroke-width="2.8" fill="none" stroke-dasharray="2 1" stroke-linecap="butt"/>
<path d="M955.5 252L975 231.5" stroke="#111" stroke-width="3.0" fill="none" />
<path d="M960 250L978 232" stroke="#111" stroke-width="1.8" fill="none" />
<path d="M978 231L1073 268.5" stroke="#111" stroke-width="1.95" fill="none" />
<path d="M984 231L1076 266.5" stroke="#111" stroke-width="1.95" fill="none" />
<path d="M993.5 238.5L976.5 253.5" stroke="#111" stroke-width="1.95" fill="none" />
<path d="M1073 268.5L1063 283.5" stroke="#111" stroke-width="2.25" fill="none" />
<path d="M1078 267.5L1068 282" stroke="#111" stroke-width="1.95" fill="none" />
<path d="M1073 268.5L1100 269.5L1136 268" stroke="#111" stroke-width="2.6" fill="none" />
<path d="M1093 235L1128 250Q1135.5 253 1135.5 259L1135.5 268" stroke="#111" stroke-width="2.6" fill="none" />
<path d="M1098 241L1124 252.5Q1131 256 1131 261L1131 267" stroke="#111" stroke-width="1.8" fill="none" />
<path d="M1089 237L1120 251Q1127 255 1127.5 262" stroke="#111" stroke-width="1.8" fill="none" />
<path d="M1138 252.5L1222.5 252.5" stroke="#111" stroke-width="2.4" fill="none" />
<path d="M1138 262.5L1164 262.5" stroke="#111" stroke-width="1.95" fill="none" />
<path d="M1181 262.5L1212 262.5" stroke="#111" stroke-width="2.6" fill="none" />
<path d="M1140 269L1222.5 269" stroke="#777" stroke-width="3.0" fill="none" />
<path d="M1166 252Q1163 258 1166 263" stroke="#111" stroke-width="2.25" fill="none" />
<path d="M1198 253Q1196 258 1199 263" stroke="#111" stroke-width="2.25" fill="none" />
<path d="M1066 281L1222.5 281" stroke="#111" stroke-width="3.0" fill="none" />
<path d="M1072 288.3L1222.5 288.3" stroke="#111" stroke-width="5.0" fill="none" />
<path d="M1078 295L1222.5 295" stroke="#888" stroke-width="3.4" fill="none" />
<path d="M974 290L978 272Q980 266 986 266L996 266Q1002 266 1004 272L1007 290" stroke="#111" stroke-width="2.6" fill="none" />
<path d="M979 290L982 274Q984 270 988 270L994 270Q999 270 1000 274L1002 290" stroke="#111" stroke-width="1.65" fill="none" />
<path d="M977 280L1005 280" stroke="#111" stroke-width="2.4" fill="none" />
<path d="M977 284L1005 284" stroke="#555" stroke-width="1.5" fill="none" />
<path d="M950 256L976 297" stroke="#111" stroke-width="2.4" fill="none" />
<path d="M954 254L980 294" stroke="#111" stroke-width="2.4" fill="none" />
<path d="M974 289.7L1066 289.7" stroke="#111" stroke-width="2.7" fill="none" />
<path d="M980 294.5L1060 294.5" stroke="#555" stroke-width="1.8" fill="none" />
<path d="M988 300.4L1059 300.4L1059 291" stroke="#111" stroke-width="1.95" fill="none" />
<path d="M977 305.9L1066 305.9" stroke="#111" stroke-width="2.4" fill="none" />
<path d="M969 296L969 357" stroke="#111" stroke-width="2.8" fill="none" />
<path d="M976 281L976 357" stroke="#111" stroke-width="3.0" fill="none" />
<path d="M985 298L985 350" stroke="#111" stroke-width="1.95" fill="none" />
<path d="M994 377L1067 377" stroke="#111" stroke-width="2.25" fill="none" />
<path d="M1040 371L1067 371" stroke="#111" stroke-width="1.8" fill="none" />
<path d="M1054 318L1067 318" stroke="#111" stroke-width="2.1" fill="none" />
<path d="M1054 332.5L1067 332.5" stroke="#111" stroke-width="2.1" fill="none" />
<path d="M1054 349L1067 349" stroke="#111" stroke-width="2.1" fill="none" />
<path d="M1054 358L1067 358" stroke="#111" stroke-width="2.1" fill="none" />
<path d="M969 319L989 319" stroke="#111" stroke-width="2.25" fill="none" />
<path d="M969 335L989 335" stroke="#111" stroke-width="2.25" fill="none" />
<path d="M969 342L989 342" stroke="#111" stroke-width="2.25" fill="none" />
<path d="M969 349L989 349" stroke="#111" stroke-width="2.25" fill="none" />
<circle cx="1022.5" cy="340.5" r="34.6" stroke="#333" stroke-width="1.95" fill="none"/>
<circle cx="1022.5" cy="340.5" r="30.0" stroke="#111" stroke-width="2.9" fill="#fff"/>
<path d="M999 366Q1022 384 1048 365" stroke="#111" stroke-width="1.5" fill="none" />
<path d="M945 272L958 268L968 288L968 325L948 327L936 322L935 311L944 306L944 301L938 299L938 292L944 290Z" stroke="#111" stroke-width="1.5" fill="#141414" />
<path d="M949 276Q946 290 950 304" stroke="#aaa" stroke-width="1.8" fill="none" />
<path d="M954 278L957 296" stroke="#888" stroke-width="1.8" fill="none" stroke-dasharray="2 2"/>
<path d="M961 286L963 304" stroke="#999" stroke-width="1.8" fill="none" stroke-dasharray="2 3"/>
<path d="M941 310.5L951 311.5" stroke="#ddd" stroke-width="2.4" fill="none" />
<path d="M947 318.5L963 319" stroke="#ddd" stroke-width="2.4" fill="none" />
<circle cx="941.5" cy="295.5" r="1.3" stroke="#111" stroke-width="0.0" fill="#ddd"/>
<path d="M956 304L960 304" stroke="#eee" stroke-width="2.4" fill="none" />
<path d="M920 485L920 634C920.5 654 940 665 967 665C995 665 1014.5 654 1014.5 634L1014.5 502" stroke="#111" stroke-width="2.7" fill="none" />
<path d="M972 410L974 401Q975 397 980 397L1047 397Q1055 397 1056 403L1058 410" stroke="#111" stroke-width="2.6" fill="none" />
<rect x="979" y="399.5" width="68" height="8.5" rx="0" ry="0" stroke="#111" stroke-width="1.8" fill="#9a9a9a"/>
<path d="M979 402L1047 402" stroke="#333" stroke-width="1.5" fill="none" />
<path d="M979 405.5L1047 405.5" stroke="#ddd" stroke-width="1.5" fill="none" />
<path d="M946 413.5L1053 413.5" stroke="#111" stroke-width="2.4" fill="none" />
<path d="M1058 409.3L1222.5 409.3" stroke="#111" stroke-width="3.0" fill="none" />
<path d="M1053 415.7L1222.5 415.7" stroke="#222" stroke-width="1.5" fill="none" />
<path d="M960 409L938 409Q932.5 410 932.5 416L936 488Q937 496 944 499" stroke="#111" stroke-width="2.6" fill="none" />
<path d="M946 411L948 496" stroke="#111" stroke-width="1.95" fill="none" />
<path d="M957 413L960 497" stroke="#111" stroke-width="1.95" fill="none" />
<path d="M938 413Q941 455 943 497" stroke="#111" stroke-width="1.5" fill="none" />
<circle cx="950" cy="482.5" r="2.6" stroke="#111" stroke-width="2.25" fill="#333"/>
<path d="M962 492.8L1104 492.8" stroke="#111" stroke-width="2.25" fill="none" />
<path d="M944 499L958 501.5L970 502L973 499.5" stroke="#111" stroke-width="2.4" fill="none" />
<rect x="962" y="414" width="91" height="77.5" rx="7" ry="7" stroke="#111" stroke-width="2.4" fill="none"/>
<rect x="965.5" y="422" width="81.5" height="65.5" rx="5" ry="5" stroke="#111" stroke-width="3.0" fill="none"/>
<rect x="967" y="432" width="79" height="5" fill="#111"/>
<rect x="967" y="447" width="79" height="3" fill="#111"/>
<rect x="967" y="460" width="79" height="3" fill="#111"/>
<rect x="967" y="473" width="79" height="5" fill="#111"/>
<rect x="967" y="444" width="79" height="3" fill="#888"/>
<rect x="967" y="457" width="79" height="3" fill="#999"/>
<rect x="967" y="470" width="79" height="3" fill="#888"/>
<path d="M970 423.5Q967 427.5 970 431.5" stroke="#111" stroke-width="1.5" fill="none" />
<path d="M970 438Q967 442 970 446" stroke="#111" stroke-width="1.5" fill="none" />
<path d="M970 451Q967 455 970 459" stroke="#111" stroke-width="1.5" fill="none" />
<path d="M970 464Q967 468 970 472" stroke="#111" stroke-width="1.5" fill="none" />
<path d="M970 478.5Q967 482.5 970 486.5" stroke="#111" stroke-width="1.5" fill="none" />
<path d="M1053 413L1053 499" stroke="#111" stroke-width="2.4" fill="none" />
<circle cx="1072.5" cy="422.5" r="3.6" stroke="#111" stroke-width="2.4" fill="none"/>
<circle cx="1072.5" cy="462" r="3.6" stroke="#111" stroke-width="2.4" fill="none"/>
<circle cx="1072.5" cy="483" r="3.6" stroke="#111" stroke-width="2.4" fill="none"/>
<circle cx="1093" cy="436" r="5.6" stroke="#111" stroke-width="3.4" fill="none"/>
<circle cx="1093" cy="436" r="2.0" stroke="#111" stroke-width="1.8" fill="#555"/>
<circle cx="1093" cy="471.5" r="5.6" stroke="#111" stroke-width="3.4" fill="none"/>
<circle cx="1093" cy="471.5" r="2.0" stroke="#111" stroke-width="1.8" fill="#555"/>
<circle cx="1059.5" cy="483" r="1.3" stroke="#111" stroke-width="1.5" fill="#111"/>
<rect x="1107.5" y="423" width="57.5" height="13" rx="5" ry="5" stroke="#111" stroke-width="2.6" fill="none"/>
<rect x="1107.5" y="436" width="57.5" height="13" rx="5" ry="5" stroke="#111" stroke-width="2.6" fill="none"/>
<path d="M1112 435L1161 435" stroke="#888" stroke-width="2.8" fill="none" />
<path d="M1112 447L1161 447" stroke="#aaa" stroke-width="2.8" fill="none" />
<rect x="1107.5" y="457" width="57.5" height="12" rx="4" ry="4" stroke="#111" stroke-width="2.6" fill="none"/>
<path d="M1111 467.5L1162 467.5" stroke="#111" stroke-width="2.8" fill="none" />
<path d="M1137 420L1139 422.5L1141 420Z" stroke="#111" stroke-width="1.5" fill="#111" />
<path d="M1137 452L1139 449.5L1141 452Z" stroke="#111" stroke-width="1.5" fill="#111" />
<path d="M1222.5 423L1178 423Q1172 423 1172 429L1172 443Q1172 449 1178 449L1222.5 449" stroke="#111" stroke-width="2.6" fill="#8a8a8a" />
<path d="M1175 426.5L1222.5 426.5" stroke="#333" stroke-width="1.65" fill="none" />
<path d="M1175 430L1222.5 430" stroke="#bbb" stroke-width="1.65" fill="none" />
<path d="M1175 433.5L1222.5 433.5" stroke="#333" stroke-width="1.65" fill="none" />
<path d="M1175 437L1222.5 437" stroke="#bbb" stroke-width="1.65" fill="none" />
<path d="M1175 440.5L1222.5 440.5" stroke="#333" stroke-width="1.65" fill="none" />
<path d="M1175 444L1222.5 444" stroke="#bbb" stroke-width="1.65" fill="none" />
<path d="M1175 447L1222.5 447" stroke="#333" stroke-width="1.65" fill="none" />
<path d="M1222.5 457L1177 457Q1172.5 457 1172.5 461L1172.5 465Q1172.5 469 1177 469L1222.5 469" stroke="#111" stroke-width="2.6" fill="none" />
<path d="M1176 467.8L1222.5 467.8" stroke="#111" stroke-width="2.8" fill="none" />
<path d="M1222.5 474L1125 474L1102 499" stroke="#111" stroke-width="2.8" fill="none" />
<path d="M1222.5 478.5L1128 478.5L1108 499" stroke="#111" stroke-width="1.8" fill="none" />
<path d="M972 499.5L1222.5 499.5" stroke="#111" stroke-width="3.2" fill="none" />
<ellipse cx="1222.0" cy="492" rx="5.6" ry="3.8" stroke="#111" stroke-width="2.4" fill="#fff"/>
<path d="M1219.0 492.3L1225.0 492.3" stroke="#111" stroke-width="2.4" fill="none" />
<ellipse cx="1203.6" cy="492" rx="5.6" ry="3.8" stroke="#111" stroke-width="2.4" fill="#fff"/>
<path d="M1200.6 492.3L1206.6 492.3" stroke="#111" stroke-width="2.4" fill="none" />
<ellipse cx="1185.1999999999998" cy="492" rx="5.6" ry="3.8" stroke="#111" stroke-width="2.4" fill="#fff"/>
<path d="M1182.1999999999998 492.3L1188.1999999999998 492.3" stroke="#111" stroke-width="2.4" fill="none" />
<ellipse cx="1166.7999999999997" cy="492" rx="5.6" ry="3.8" stroke="#111" stroke-width="2.4" fill="#fff"/>
<path d="M1163.7999999999997 492.3L1169.7999999999997 492.3" stroke="#111" stroke-width="2.4" fill="none" />
<ellipse cx="1148.3999999999996" cy="492" rx="5.6" ry="3.8" stroke="#111" stroke-width="2.4" fill="#fff"/>
<path d="M1145.3999999999996 492.3L1151.3999999999996 492.3" stroke="#111" stroke-width="2.4" fill="none" />
<ellipse cx="1129.9999999999995" cy="492" rx="5.6" ry="3.8" stroke="#111" stroke-width="2.4" fill="#fff"/>
<path d="M1126.9999999999995 492.3L1132.9999999999995 492.3" stroke="#111" stroke-width="2.4" fill="none" />
<ellipse cx="1212.8" cy="483" rx="5.6" ry="4.0" stroke="#111" stroke-width="2.4" fill="#444"/>
<ellipse cx="1212.8" cy="482.2" rx="3.2" ry="1.8" stroke="#111" stroke-width="0.0" fill="#999"/>
<ellipse cx="1194.3999999999999" cy="483" rx="5.6" ry="4.0" stroke="#111" stroke-width="2.4" fill="#444"/>
<ellipse cx="1194.3999999999999" cy="482.2" rx="3.2" ry="1.8" stroke="#111" stroke-width="0.0" fill="#999"/>
<ellipse cx="1175.9999999999998" cy="483" rx="5.6" ry="4.0" stroke="#111" stroke-width="2.4" fill="#444"/>
<ellipse cx="1175.9999999999998" cy="482.2" rx="3.2" ry="1.8" stroke="#111" stroke-width="0.0" fill="#999"/>
<ellipse cx="1157.5999999999997" cy="483" rx="5.6" ry="4.0" stroke="#111" stroke-width="2.4" fill="#444"/>
<ellipse cx="1157.5999999999997" cy="482.2" rx="3.2" ry="1.8" stroke="#111" stroke-width="0.0" fill="#999"/>
<ellipse cx="1139.1999999999996" cy="483" rx="5.6" ry="4.0" stroke="#111" stroke-width="2.4" fill="#444"/>
<ellipse cx="1139.1999999999996" cy="482.2" rx="3.2" ry="1.8" stroke="#111" stroke-width="0.0" fill="#999"/>
<path d="M1068.5 283L1068.5 407" stroke="#111" stroke-width="3.4" fill="none" />
<path d="M1073.5 292L1073.5 407" stroke="#111" stroke-width="2.1" fill="none" />
<path d="M1064.5 298L1064.5 396" stroke="#111" stroke-width="1.8" fill="none" />
<rect x="1077" y="299" width="141" height="39.5" rx="3" fill="#0c0c0c"/>
<rect x="1077" y="349" width="141" height="42" rx="3" fill="#0c0c0c"/>
<path d="M1083 303.5L1106 303.5" stroke="#9a9a9a" stroke-width="1.65" fill="none" stroke-linecap="butt"/>
<path d="M1117 303.5L1135 303.5" stroke="#9a9a9a" stroke-width="1.65" fill="none" stroke-linecap="butt"/>
<path d="M1139 303.5L1163 303.5" stroke="#9a9a9a" stroke-width="1.65" fill="none" stroke-linecap="butt"/>
<path d="M1166 303.5L1179 303.5" stroke="#9a9a9a" stroke-width="1.65" fill="none" stroke-linecap="butt"/>
<path d="M1181 303.5L1202 303.5" stroke="#9a9a9a" stroke-width="1.65" fill="none" stroke-linecap="butt"/>
<path d="M1083 312L1108 312" stroke="#9a9a9a" stroke-width="1.65" fill="none" stroke-linecap="butt"/>
<path d="M1083 319.5L1110 319.5" stroke="#9a9a9a" stroke-width="1.65" fill="none" stroke-linecap="butt"/>
<path d="M1140 319.5L1205 319.5" stroke="#e8e8e8" stroke-width="1.65" fill="none" stroke-linecap="butt"/>
<path d="M1107 323.7L1200 323.7" stroke="#9a9a9a" stroke-width="1.65" fill="none" stroke-linecap="butt"/>
<path d="M1083 328L1106 328" stroke="#9a9a9a" stroke-width="1.65" fill="none" stroke-linecap="butt"/>
<path d="M1080 332L1160 332" stroke="#8a8a8a" stroke-width="1.65" fill="none" stroke-linecap="butt"/>
<path d="M1083 336.5L1103 336.5" stroke="#e0e0e0" stroke-width="1.65" fill="none" stroke-linecap="butt"/>
<path d="M1112 336.5L1218 336.5" stroke="#e0e0e0" stroke-width="1.65" fill="none" stroke-linecap="butt"/>
<path d="M1083 353L1098 353" stroke="#9a9a9a" stroke-width="1.65" fill="none" stroke-linecap="butt"/>
<path d="M1083 361.5L1095 361.5" stroke="#9a9a9a" stroke-width="1.65" fill="none" stroke-linecap="butt"/>
<path d="M1083 370L1110 370" stroke="#9a9a9a" stroke-width="1.65" fill="none" stroke-linecap="butt"/>
<path d="M1135 370L1205 370" stroke="#cfcfcf" stroke-width="1.65" fill="none" stroke-linecap="butt"/>
<path d="M1090 378L1110 378" stroke="#9a9a9a" stroke-width="1.65" fill="none" stroke-linecap="butt"/>
<path d="M1090 386L1100 386" stroke="#777" stroke-width="1.65" fill="none" stroke-linecap="butt"/>
<path d="M1160 386L1217 386" stroke="#cfcfcf" stroke-width="1.65" fill="none" stroke-linecap="butt"/>
<path d="M1125 353L1190 353" stroke="#777" stroke-width="1.65" fill="none" stroke-linecap="butt"/>
<ellipse cx="1118.5" cy="353" rx="2.6" ry="2.0" stroke="#111" stroke-width="0.0" fill="#fff"/>
<ellipse cx="1135" cy="353" rx="2.6" ry="2.0" stroke="#111" stroke-width="0.0" fill="#fff"/>
<ellipse cx="1152.5" cy="353" rx="2.6" ry="2.0" stroke="#111" stroke-width="0.0" fill="#fff"/>
<ellipse cx="1170" cy="353" rx="2.6" ry="2.0" stroke="#111" stroke-width="0.0" fill="#fff"/>
<ellipse cx="1187.5" cy="353" rx="2.6" ry="2.0" stroke="#111" stroke-width="0.0" fill="#fff"/>
<ellipse cx="1118.5" cy="361.5" rx="2.6" ry="2.0" stroke="#111" stroke-width="0.0" fill="#fff"/>
<ellipse cx="1135" cy="361.5" rx="2.6" ry="2.0" stroke="#111" stroke-width="0.0" fill="#fff"/>
<ellipse cx="1152.5" cy="361.5" rx="2.6" ry="2.0" stroke="#111" stroke-width="0.0" fill="#fff"/>
<ellipse cx="1170" cy="361.5" rx="2.6" ry="2.0" stroke="#111" stroke-width="0.0" fill="#fff"/>
<ellipse cx="1187.5" cy="361.5" rx="2.6" ry="2.0" stroke="#111" stroke-width="0.0" fill="#fff"/>
<ellipse cx="1205" cy="361.5" rx="2.6" ry="2.0" stroke="#111" stroke-width="0.0" fill="#fff"/>
<ellipse cx="1118.5" cy="370" rx="2.6" ry="2.0" stroke="#111" stroke-width="0.0" fill="#fff"/>
<ellipse cx="1135" cy="370" rx="2.6" ry="2.0" stroke="#111" stroke-width="0.0" fill="#fff"/>
<ellipse cx="1152.5" cy="370" rx="2.6" ry="2.0" stroke="#111" stroke-width="0.0" fill="#fff"/>
<ellipse cx="1170" cy="370" rx="2.6" ry="2.0" stroke="#111" stroke-width="0.0" fill="#fff"/>
<ellipse cx="1187.5" cy="370" rx="2.6" ry="2.0" stroke="#111" stroke-width="0.0" fill="#fff"/>
<ellipse cx="1205" cy="370" rx="2.6" ry="2.0" stroke="#111" stroke-width="0.0" fill="#fff"/>
<ellipse cx="1118.5" cy="378" rx="2.6" ry="2.0" stroke="#111" stroke-width="0.0" fill="#fff"/>
<ellipse cx="1135" cy="378" rx="2.6" ry="2.0" stroke="#111" stroke-width="0.0" fill="#fff"/>
<ellipse cx="1152.5" cy="378" rx="2.6" ry="2.0" stroke="#111" stroke-width="0.0" fill="#fff"/>
<ellipse cx="1170" cy="378" rx="2.6" ry="2.0" stroke="#111" stroke-width="0.0" fill="#fff"/>
<ellipse cx="1187.5" cy="378" rx="2.6" ry="2.0" stroke="#111" stroke-width="0.0" fill="#fff"/>
<ellipse cx="1205" cy="378" rx="2.6" ry="2.0" stroke="#111" stroke-width="0.0" fill="#fff"/>
<circle cx="1077.5" cy="303.5" r="1.5" stroke="#111" stroke-width="0.0" fill="#fff"/>
<circle cx="1217.8" cy="303.5" r="1.7" stroke="#111" stroke-width="0.0" fill="#fff"/>
<circle cx="1077.5" cy="312" r="1.5" stroke="#111" stroke-width="0.0" fill="#fff"/>
<circle cx="1217.8" cy="312" r="1.7" stroke="#111" stroke-width="0.0" fill="#fff"/>
<circle cx="1077.5" cy="320" r="1.5" stroke="#111" stroke-width="0.0" fill="#fff"/>
<circle cx="1217.8" cy="320" r="1.7" stroke="#111" stroke-width="0.0" fill="#fff"/>
<circle cx="1077.5" cy="328" r="1.5" stroke="#111" stroke-width="0.0" fill="#fff"/>
<circle cx="1217.8" cy="328" r="1.7" stroke="#111" stroke-width="0.0" fill="#fff"/>
<circle cx="1077.5" cy="336" r="1.5" stroke="#111" stroke-width="0.0" fill="#fff"/>
<circle cx="1217.8" cy="336" r="1.7" stroke="#111" stroke-width="0.0" fill="#fff"/>
<circle cx="1077.5" cy="353" r="1.5" stroke="#111" stroke-width="0.0" fill="#fff"/>
<circle cx="1217.8" cy="353" r="1.7" stroke="#111" stroke-width="0.0" fill="#fff"/>
<circle cx="1077.5" cy="361.5" r="1.5" stroke="#111" stroke-width="0.0" fill="#fff"/>
<circle cx="1217.8" cy="361.5" r="1.7" stroke="#111" stroke-width="0.0" fill="#fff"/>
<circle cx="1077.5" cy="370" r="1.5" stroke="#111" stroke-width="0.0" fill="#fff"/>
<circle cx="1217.8" cy="370" r="1.7" stroke="#111" stroke-width="0.0" fill="#fff"/>
<circle cx="1077.5" cy="378" r="1.5" stroke="#111" stroke-width="0.0" fill="#fff"/>
<circle cx="1217.8" cy="378" r="1.7" stroke="#111" stroke-width="0.0" fill="#fff"/>
<circle cx="1077.5" cy="386" r="1.5" stroke="#111" stroke-width="0.0" fill="#fff"/>
<circle cx="1217.8" cy="386" r="1.7" stroke="#111" stroke-width="0.0" fill="#fff"/>
<path d="M1078 394L1222.5 394" stroke="#666" stroke-width="2.8" fill="none" />
<ellipse cx="1117.5" cy="401.5" rx="6.5" ry="4.2" stroke="#111" stroke-width="1.5" fill="#222"/>
<rect x="1132" y="397" width="38" height="10" rx="4.5" fill="#4a4a4a" stroke="#1a1a1a" stroke-width="1.4"/>
<rect x="1181" y="397" width="36.5" height="10" rx="4.5" fill="#4a4a4a" stroke="#1a1a1a" stroke-width="1.4"/>
<path d="M1137 402L1165 402" stroke="#8a8a8a" stroke-width="2.4" fill="none" />
<path d="M1186 402L1213 402" stroke="#8a8a8a" stroke-width="2.4" fill="none" />
<path d="M1080 392.8L1222.5 392.8" stroke="#222" stroke-width="1.95" fill="none" />
<path d="M1075 398L1108 398" stroke="#111" stroke-width="1.8" fill="none" />
<path d="M1059 500L1059 547" stroke="#111" stroke-width="2.6" fill="none" />
<path d="M1014 502.5L1059 502.5" stroke="#111" stroke-width="2.8" fill="none" />
<path d="M1059 543L1078 543" stroke="#111" stroke-width="1.95" fill="none" />
<path d="M1059 548.6L1222.5 548.6" stroke="#111" stroke-width="3.0" fill="none" />
<path d="M1135 545.3L1222.5 545.3" stroke="#888" stroke-width="1.2" fill="none" />
<path d="M1135 512L1222.5 512" stroke="#333" stroke-width="2.4" fill="none" />
<path d="M1150 508L1222.5 508" stroke="#555" stroke-width="2.1" fill="none" stroke-dasharray="9 9" stroke-linecap="butt"/>
<path d="M1155 536.5L1222.5 536.5" stroke="#666" stroke-width="2.1" fill="none" stroke-dasharray="12 11" stroke-linecap="butt"/>
<path d="M1155 542.3L1222.5 542.3" stroke="#777" stroke-width="1.5" fill="none" stroke-dasharray="2.5 9 2.5 9" stroke-linecap="butt"/>
<rect x="1078" y="509" width="55" height="38" rx="2" ry="2" stroke="#111" stroke-width="2.8" fill="none"/>
<path d="M1078 505L1083 505" stroke="#111" stroke-width="2.8" fill="none" />
<path d="M1014 553L1040 553L1040 584Q1036 590 1028 592L1014 592" stroke="#111" stroke-width="2.4" fill="none" />
<path d="M1040 556Q1042 552 1048 552L1054 552Q1058 553 1058 558L1058 578Q1056 588 1046 588L1040 587" stroke="#111" stroke-width="2.4" fill="none" />
</g>
<g id="uniq">
<path d="M1221.8 0L1221.8 52" stroke="#111" stroke-width="2.5" fill="none" />
<path d="M1222 215L1222 288" stroke="#111" stroke-width="2.4" fill="none" />
<path d="M1212 262.5L1216 257.5Q1222 255 1228 257.5L1232 262.5Z" stroke="#111" stroke-width="1.8" fill="#222" />
<path d="M1181 262.5L1262 262.5" stroke="#111" stroke-width="2.6" fill="none" />
<rect x="891.5" y="121.5" width="53.5" height="87" rx="11" ry="11" stroke="#111" stroke-width="2.8" fill="none"/>
<rect x="898.5" y="128.5" width="39" height="72" rx="7" ry="7" stroke="#111" stroke-width="2.6" fill="none"/>
<path d="M925 101.5L927 107.5" stroke="#111" stroke-width="1.8" fill="none" />
<path d="M948 95L949.5 101" stroke="#111" stroke-width="1.8" fill="none" />
<path d="M951 92L960 97L957 104L952 101Z" stroke="#111" stroke-width="1.5" fill="#111" />
<path d="M940 236L950 240L948 250L940 246Z" stroke="#111" stroke-width="1.5" fill="#111" />
<path d="M907 152L936 152L940 158L940 172L936 178L907 178L905 170L905 158Z" stroke="#111" stroke-width="1.5" fill="#151515" />
<rect x="909" y="159" width="10" height="13" rx="2" ry="2" stroke="#eee" stroke-width="2.1" fill="#444"/>
<circle cx="924" cy="165" r="4.5" stroke="#ddd" stroke-width="2.1" fill="#333"/>
<path d="M915.2 120L915.2 210" stroke="#fff" stroke-width="5.4" fill="none" stroke-linecap="butt"/>
<path d="M951.5 94L930 100Q912 104 912 118L912 218Q912 232 924 236L940 242" stroke="#111" stroke-width="2.25" fill="none" />
<path d="M953 100L932 106Q918.3 109 918.3 120L918.3 216Q918.3 227 928 231L942 236" stroke="#111" stroke-width="2.25" fill="none" />
<path d="M905 165L926 165" stroke="#ccc" stroke-width="1.5" fill="none" />
<path d="M1533 122.5L1542 122.5Q1553.5 123 1553.5 136L1553.5 194Q1553.5 207 1542 207L1533 207" stroke="#111" stroke-width="2.8" fill="none" />
<path d="M1533 129.5L1540 129.5Q1546.5 130 1546.5 138L1546.5 192Q1546.5 200 1540 200L1533 200" stroke="#111" stroke-width="2.4" fill="none" />
<path d="M1519.5 100Q1533 103 1533 118L1533 215Q1533 228 1524 232" stroke="#111" stroke-width="2.25" fill="none" />
<path d="M1519.5 106Q1527 108 1527 120L1527 213Q1527 224 1520 228" stroke="#111" stroke-width="2.25" fill="none" />
<path d="M1520 152L1536 152L1540 158L1540 172L1536 177L1520 177Z" stroke="#111" stroke-width="1.5" fill="#151515" />
<path d="M1527 152L1527 177" stroke="#ddd" stroke-width="1.8" fill="none" />
<path d="M1533 152L1533 177" stroke="#ddd" stroke-width="1.8" fill="none" />
<path d="M1522 160L1538 160" stroke="#ddd" stroke-width="1.8" fill="none" />
<path d="M1522 169L1538 169" stroke="#ddd" stroke-width="1.8" fill="none" />
<path d="M1522 125L1522 150" stroke="#111" stroke-width="1.5" fill="none" />
<path d="M1492.5 328L1527 335Q1535 337 1535 348L1533.5 400L1530.5 466Q1529 480 1522 483L1508 483" stroke="#111" stroke-width="3.2" fill="none" />
<path d="M1534 345L1532.5 400L1529.5 466" stroke="#111" stroke-width="3.4" fill="none" />
<path d="M1528 341L1526.5 400L1525 440Q1524 462 1519 474" stroke="#111" stroke-width="1.95" fill="none" stroke-dasharray="6 3"/>
<path d="M1497 332.5L1526 339.5" stroke="#111" stroke-width="3.8" fill="none" stroke-dasharray="2.5 1.5" stroke-linecap="butt"/>
<path d="M1492 344L1528 350" stroke="#111" stroke-width="1.95" fill="none" />
<path d="M1493 348L1528 354" stroke="#111" stroke-width="1.65" fill="none" stroke-dasharray="8 4"/>
<path d="M1491 329Q1489 362 1472 393" stroke="#111" stroke-width="3.0" fill="none" />
<path d="M1472 395L1527 407" stroke="#111" stroke-width="1.95" fill="none" stroke-dasharray="5 2"/>
<path d="M1512 420L1526 424" stroke="#111" stroke-width="1.8" fill="none" stroke-dasharray="5 2"/>
<path d="M1485 404L1487 398L1505 402L1506 408" stroke="#111" stroke-width="1.65" fill="none" />
<path d="M1469 352Q1466 374 1441 394" stroke="#111" stroke-width="2.1" fill="none" />
<path d="M1476 352Q1474 378 1449 394" stroke="#111" stroke-width="2.1" fill="none" />
<path d="M1484 344Q1483 378 1458 394" stroke="#111" stroke-width="2.6" fill="none" />
<path d="M1458 372L1474 378M1452 382L1466 388M1462 362L1478 366" stroke="#111" stroke-width="1.65" fill="none" />
<path d="M1524.5 483L1524.5 520" stroke="#111" stroke-width="2.4" fill="none" />
<path d="M1480 70L1476 34Q1474 14 1487 10.5L1500 11Q1512 13 1518 19Q1524 26 1521 36Q1519 42 1515 43L1516 57L1518.5 70" stroke="#111" stroke-width="3.0" fill="#fff" />
<path d="M1485 69Q1486 35 1506 16" stroke="#111" stroke-width="1.65" fill="none" />
<path d="M1502 69Q1502 40 1514 32Q1520 29 1521 33" stroke="#111" stroke-width="1.8" fill="none" />
<path d="M1506 69Q1506 44 1514 37" stroke="#111" stroke-width="1.65" fill="none" />
<path d="M1512 14Q1520 20 1519 30" stroke="#111" stroke-width="1.5" fill="none" />
<rect x="1479" y="71.5" width="41" height="19.5" rx="1" ry="1" stroke="#111" stroke-width="2.8" fill="#fff"/>
<path d="M1499 72L1499 91" stroke="#111" stroke-width="3.8" fill="none" />
<ellipse cx="1509.7" cy="81.8" rx="2.4" ry="1.6" stroke="#111" stroke-width="0.0" fill="#111"/>
<path d="M1479 94L1521 94" stroke="#111" stroke-width="1.95" fill="none" />
<path d="M1480 91L1481.5 146L1491.5 190L1521 190L1519.5 91Z" stroke="#111" stroke-width="0.0" fill="#fff" />
<path d="M1480 91L1481.5 146L1492 195" stroke="#111" stroke-width="2.4" fill="none" />
<path d="M1484.5 146L1494.5 190" stroke="#111" stroke-width="1.65" fill="none" />
<path d="M1432 0C1447 6 1462 16 1475 31" stroke="#111" stroke-width="3.4" fill="none" />
<path d="M1519.5 91L1519.5 205" stroke="#111" stroke-width="2.6" fill="none" />
<path d="M1500 94L1506 195" stroke="#111" stroke-width="1.95" fill="none" />
<path d="M1486 138Q1500 122 1519 138" stroke="#111" stroke-width="1.95" fill="none" />
<path d="M1489 172Q1503 154 1519 170" stroke="#111" stroke-width="1.95" fill="none" />
<path d="M1492 196Q1504 180 1519 192" stroke="#111" stroke-width="1.95" fill="none" />
<path d="M1491.5 192Q1504 184 1520 194L1522 226L1493 226Z" stroke="#111" stroke-width="1.5" fill="#0a0a0a" />
<path d="M1497 226Q1506 212 1517 224" stroke="#fff" stroke-width="2.4" fill="none" />
<path d="M1521.0 226.0C1522.0 245.0 1522.0 262.0 1520.0 272.0C1517.0 290.0 1508.0 300.0 1492.5 303.0L1492.5 278C1495 275 1496.5 271 1497.5 264C1498.5 255 1496.5 240 1497 226Z" stroke="#111" stroke-width="0.0" fill="#fff" />
<path d="M1497 226C1496.5 240 1498.5 255 1497.5 264C1496.5 271 1495 275 1492.5 278" stroke="#111" stroke-width="2.6" fill="none" />
<path d="M1503.5 226.0C1503.4 241.3 1504.8 256.9 1503.6 266.2C1502.0 276.1 1498.5 281.8 1492.5 284.8" stroke="#111" stroke-width="1.8" fill="none" />
<path d="M1509.5 226.0C1509.8 242.6 1510.7 258.6 1509.2 268.2C1507.2 280.9 1501.8 288.0 1492.5 291.0" stroke="#111" stroke-width="1.8" fill="none" />
<path d="M1515.5 226.0C1516.1 243.8 1516.6 260.4 1514.8 270.2C1512.3 285.6 1505.0 294.2 1492.5 297.2" stroke="#111" stroke-width="1.8" fill="none" />
<path d="M1521.0 226.0C1522.0 245.0 1522.0 262.0 1520.0 272.0C1517.0 290.0 1508.0 300.0 1492.5 303.0" stroke="#111" stroke-width="2.8" fill="none" />
<path d="M1498 240Q1510 232 1521 240" stroke="#111" stroke-width="1.8" fill="none" />
<path d="M1499 236Q1510 228 1521 236" stroke="#111" stroke-width="1.8" fill="none" />
<path d="M1520 215Q1530 216 1533 226Q1533 232 1524 232" stroke="#111" stroke-width="1.95" fill="none" />
<path d="M1490.5 200L1490.5 252" stroke="#111" stroke-width="5.3" fill="none" />
<path d="M1478 305L1505 305L1507 312L1505 325L1480 325L1478 318Z" stroke="#111" stroke-width="1.5" fill="#111" />
<path d="M1482 318L1502 318" stroke="#ddd" stroke-width="2.1" fill="none" />
<rect x="1468.5" y="112" width="12" height="33" rx="4" ry="4" stroke="#111" stroke-width="1.5" fill="#181818"/>
<circle cx="1473" cy="118" r="1.6" stroke="#111" stroke-width="0.0" fill="#fff"/>
<circle cx="1473" cy="126" r="1.6" stroke="#111" stroke-width="0.0" fill="#fff"/>
<circle cx="1473" cy="134" r="1.6" stroke="#111" stroke-width="0.0" fill="#fff"/>
<circle cx="1473" cy="141" r="1.6" stroke="#111" stroke-width="0.0" fill="#fff"/>
<rect x="1439" y="203" width="50" height="10" rx="4" ry="4" stroke="#111" stroke-width="2.8" fill="#fff"/>
<path d="M1446 208L1455 208" stroke="#111" stroke-width="3.3" fill="none" />
<path d="M1462 208L1470 208" stroke="#111" stroke-width="3.3" fill="none" />
<path d="M1476 204L1476 212" stroke="#111" stroke-width="2.8" fill="none" />
<path d="M986.5 179L1000 176.5L1030 173.5L1056 171.5L1058.7 170.3L1061 171.8L1075 172.5L1095 176L1122 180L1123 182.5L1108 183L1077 182.5L1077 184.6L1034 184.6L1020 182L1000 181.2L987 180.6Z" stroke="#111" stroke-width="1.2" fill="#111" />
<rect x="1021" y="179.6" width="56" height="2.8" rx="1.2" fill="#fff"/>
<path d="M1074 172.5L1168 208L1176 214L1177 222L1170 225L1157 220L1083 182Z" stroke="#111" stroke-width="0.75" fill="#fff" />
<path d="M1072 173.2L1168 208.6" stroke="#111" stroke-width="3.2" fill="none" />
<path d="M1080 179.5L1160 214.8" stroke="#111" stroke-width="2.25" fill="none" />
<path d="M1085 184L1156 219.5" stroke="#111" stroke-width="1.95" fill="none" />
<path d="M1088 187.5L1152 219.5" stroke="#111" stroke-width="1.35" fill="none" />
<path d="M1160 206L1153 217.5M1165 208L1159 219.5" stroke="#111" stroke-width="2.1" fill="none" />
<path d="M1168 208.6L1175.5 213Q1178 218 1176.5 224" stroke="#111" stroke-width="3.0" fill="none" />
<path d="M1164 219L1172 215" stroke="#111" stroke-width="1.8" fill="none" />
<path d="M1158 220L1163 226L1176 226L1172 221Z" stroke="#111" stroke-width="1.5" fill="#181818" />
<path d="M1170.5 179L1184 176.5L1214 173.5L1240 171.5L1242.7 170.3L1245 171.8L1259 172.5L1279 176L1306 180L1307 182.5L1292 183L1261 182.5L1261 184.6L1218 184.6L1204 182L1184 181.2L1171 180.6Z" stroke="#111" stroke-width="1.2" fill="#111" />
<rect x="1205" y="179.6" width="56" height="2.8" rx="1.2" fill="#fff"/>
<path d="M1258 172.5L1352 208L1360 214L1361 222L1354 225L1341 220L1267 182Z" stroke="#111" stroke-width="0.75" fill="#fff" />
<path d="M1256 173.2L1352 208.6" stroke="#111" stroke-width="3.2" fill="none" />
<path d="M1264 179.5L1344 214.8" stroke="#111" stroke-width="2.25" fill="none" />
<path d="M1269 184L1340 219.5" stroke="#111" stroke-width="1.95" fill="none" />
<path d="M1272 187.5L1336 219.5" stroke="#111" stroke-width="1.35" fill="none" />
<path d="M1344 206L1337 217.5M1349 208L1343 219.5" stroke="#111" stroke-width="2.1" fill="none" />
<path d="M1352 208.6L1359.5 213Q1362 218 1360.5 224" stroke="#111" stroke-width="3.0" fill="none" />
<path d="M1348 219L1356 215" stroke="#111" stroke-width="1.8" fill="none" />
<path d="M1342 220L1347 226L1360 226L1356 221Z" stroke="#111" stroke-width="1.5" fill="#181818" />
<rect x="1219" y="298" width="6.4" height="41.5" fill="#fff"/>
<rect x="1219" y="348" width="6.4" height="44.5" fill="#fff"/>
<circle cx="1218.6" cy="301" r="1.7" stroke="#111" stroke-width="0.0" fill="#0c0c0c"/>
<circle cx="1225.8" cy="301" r="1.7" stroke="#111" stroke-width="0.0" fill="#0c0c0c"/>
<circle cx="1218.6" cy="309" r="1.7" stroke="#111" stroke-width="0.0" fill="#0c0c0c"/>
<circle cx="1225.8" cy="309" r="1.7" stroke="#111" stroke-width="0.0" fill="#0c0c0c"/>
<circle cx="1218.6" cy="317" r="1.7" stroke="#111" stroke-width="0.0" fill="#0c0c0c"/>
<circle cx="1225.8" cy="317" r="1.7" stroke="#111" stroke-width="0.0" fill="#0c0c0c"/>
<circle cx="1218.6" cy="325" r="1.7" stroke="#111" stroke-width="0.0" fill="#0c0c0c"/>
<circle cx="1225.8" cy="325" r="1.7" stroke="#111" stroke-width="0.0" fill="#0c0c0c"/>
<circle cx="1218.6" cy="333" r="1.7" stroke="#111" stroke-width="0.0" fill="#0c0c0c"/>
<circle cx="1225.8" cy="333" r="1.7" stroke="#111" stroke-width="0.0" fill="#0c0c0c"/>
<circle cx="1218.6" cy="352" r="1.7" stroke="#111" stroke-width="0.0" fill="#0c0c0c"/>
<circle cx="1225.8" cy="352" r="1.7" stroke="#111" stroke-width="0.0" fill="#0c0c0c"/>
<circle cx="1218.6" cy="360" r="1.7" stroke="#111" stroke-width="0.0" fill="#0c0c0c"/>
<circle cx="1225.8" cy="360" r="1.7" stroke="#111" stroke-width="0.0" fill="#0c0c0c"/>
<circle cx="1218.6" cy="368" r="1.7" stroke="#111" stroke-width="0.0" fill="#0c0c0c"/>
<circle cx="1225.8" cy="368" r="1.7" stroke="#111" stroke-width="0.0" fill="#0c0c0c"/>
<circle cx="1218.6" cy="376" r="1.7" stroke="#111" stroke-width="0.0" fill="#0c0c0c"/>
<circle cx="1225.8" cy="376" r="1.7" stroke="#111" stroke-width="0.0" fill="#0c0c0c"/>
<circle cx="1218.6" cy="384" r="1.7" stroke="#111" stroke-width="0.0" fill="#0c0c0c"/>
<circle cx="1225.8" cy="384" r="1.7" stroke="#111" stroke-width="0.0" fill="#0c0c0c"/>
<circle cx="1218.6" cy="390" r="1.7" stroke="#111" stroke-width="0.0" fill="#0c0c0c"/>
<circle cx="1225.8" cy="390" r="1.7" stroke="#111" stroke-width="0.0" fill="#0c0c0c"/>
<rect x="1219" y="314" width="6.4" height="35" fill="#0c0c0c"/>
<rect x="1219" y="339.6" width="6.4" height="8.9" fill="#fff"/>
<rect x="1219" y="367.5" width="6.4" height="6" fill="#0c0c0c"/>
<circle cx="1222.3" cy="343.4" r="28.2" stroke="#4a4a4a" stroke-width="2.25" fill="none"/>
<circle cx="1222.3" cy="343.4" r="28.2" stroke="#9a9a9a" stroke-width="1.5" fill="none" stroke-dasharray="3 5"/>
<path d="M1222.3 317L1222.3 345L1199 359.5M1222.3 345L1245.6 359.5" stroke="#3a3a3a" stroke-width="3.0" fill="none" />
<path d="M1222.3 319L1222.3 345L1200 358.8M1222.3 345L1244.6 358.8" stroke="#a8a8a8" stroke-width="1.35" fill="none" />
<path d="M1078 540L1060 540" stroke="#555" stroke-width="1.8" fill="none" />
<path d="M1060 543.5L1078 543.5" stroke="#999" stroke-width="2.8" fill="none" />
<circle cx="1088" cy="516.5" r="4.6" stroke="#111" stroke-width="2.8" fill="none"/>
<circle cx="1088" cy="516.5" r="1.6" stroke="#111" stroke-width="0.0" fill="#444"/>
<circle cx="1122" cy="517" r="4.6" stroke="#111" stroke-width="2.8" fill="none"/>
<circle cx="1122" cy="517" r="1.6" stroke="#111" stroke-width="0.0" fill="#444"/>
<circle cx="1088" cy="533.5" r="4.6" stroke="#111" stroke-width="2.8" fill="none"/>
<circle cx="1088" cy="533.5" r="1.6" stroke="#111" stroke-width="0.0" fill="#444"/>
<circle cx="1122" cy="533.5" r="4.6" stroke="#111" stroke-width="2.8" fill="none"/>
<circle cx="1122" cy="533.5" r="1.6" stroke="#111" stroke-width="0.0" fill="#444"/>
<ellipse cx="1104.5" cy="522.5" rx="9" ry="6" stroke="#111" stroke-width="2.6" fill="none"/>
<rect x="1079.5" y="536.5" width="52.5" height="10" fill="#1a1a1a"/>
<rect x="1083.5" y="538.5" width="10" height="6.5" rx="1.5" ry="1.5" stroke="#111" stroke-width="0.9" fill="#fff"/>
<path d="M1088.5 539L1088.5 545" stroke="#111" stroke-width="1.8" fill="none" />
<rect x="1100" y="539" width="4.5" height="6" rx="1" ry="1" stroke="#111" stroke-width="0.9" fill="#fff"/>
<rect x="1110" y="538.5" width="12" height="5.5" rx="2" ry="2" stroke="#111" stroke-width="0.9" fill="#fff"/>
<path d="M1124 536L1132 541" stroke="#eee" stroke-width="2.25" fill="none" />
<path d="M1080 548L1131 548" stroke="#444" stroke-width="3.3" fill="none" />
<path d="M1140 535L1146 536L1147.5 540L1143 543L1138 541Z" stroke="#111" stroke-width="2.25" fill="none" />
<rect x="1315" y="520" width="50" height="24" rx="1" ry="1" stroke="#111" stroke-width="2.4" fill="none"/>
<rect x="1330" y="523.5" width="22" height="7" rx="3" ry="3" stroke="#111" stroke-width="2.4" fill="none"/>
<rect x="1327" y="533" width="27" height="4" rx="1" ry="1" stroke="#111" stroke-width="2.1" fill="none"/>
<circle cx="1321" cy="531" r="3.4" stroke="#111" stroke-width="3.0" fill="none"/>
<circle cx="1356" cy="533" r="3.4" stroke="#111" stroke-width="3.0" fill="none"/>
<path d="M1315 520L1325 530" stroke="#111" stroke-width="1.8" fill="none" />
<path d="M1365 520L1355 530" stroke="#111" stroke-width="1.8" fill="none" />
<rect x="1351" y="538" width="10" height="6" rx="2" ry="2" stroke="#111" stroke-width="2.1" fill="none"/>
<path d="M1341 538L1341 544" stroke="#111" stroke-width="2.8" fill="none" />
<path d="M1313 549L1365 549" stroke="#444" stroke-width="3.3" fill="none" />
<path d="M1312 514L1330 510L1350 509L1366 512" stroke="#111" stroke-width="3.0" fill="none" />
<ellipse cx="1301" cy="539" rx="3.5" ry="2.5" stroke="#111" stroke-width="2.6" fill="none"/>
<path d="M1014.5 500L1057.5 500L1057.5 551L1045 551L1041 557L1031 566L1021 572L1014.5 575Z" stroke="#111" stroke-width="1.5" fill="#161616" />
<rect x="1023" y="503" width="32.5" height="21" rx="1.5" ry="1.5" stroke="#111" stroke-width="2.4" fill="#fff"/>
<circle cx="1039.5" cy="513.5" r="8.3" stroke="#111" stroke-width="2.8" fill="none"/>
<ellipse cx="1039.5" cy="517.5" rx="3.8" ry="4.8" stroke="#111" stroke-width="0.0" fill="#222"/>
<path d="M1030 512.5L1049 512.5" stroke="#222" stroke-width="4.2" fill="none" />
<path d="M1033 512.5L1037 512.5" stroke="#eee" stroke-width="2.25" fill="none" />
<path d="M1042 512.5L1046 512.5" stroke="#eee" stroke-width="2.25" fill="none" />
<circle cx="1026.5" cy="506.5" r="1.6" stroke="#111" stroke-width="0.0" fill="#111"/>
<circle cx="1051.5" cy="506.5" r="1.6" stroke="#111" stroke-width="0.0" fill="#111"/>
<circle cx="1026.5" cy="520.5" r="1.6" stroke="#111" stroke-width="0.0" fill="#111"/>
<circle cx="1051.5" cy="520.5" r="1.6" stroke="#111" stroke-width="0.0" fill="#111"/>
<path d="M1024 504L1030 508M1054 504L1048 508M1024 523L1030 519M1054 523L1048 519" stroke="#111" stroke-width="1.8" fill="none" />
<path d="M1016 504L1021 504" stroke="#f2f2f2" stroke-width="1.8" fill="none" />
<path d="M1017 510L1020 516" stroke="#bbb" stroke-width="1.8" fill="none" />
<path d="M1016 520L1021 522" stroke="#ccc" stroke-width="1.8" fill="none" />
<path d="M1016 529L1027 528.5" stroke="#f2f2f2" stroke-width="2.8" fill="none" />
<path d="M1017 533L1026 532.5" stroke="#ccc" stroke-width="1.95" fill="none" />
<rect x="1015.5" y="539.5" width="10.5" height="7" rx="1.5" fill="#f2f2f2"/>
<path d="M1016 543L1026 543" stroke="#111" stroke-width="1.8" fill="none" />
<path d="M1031 527L1031 535" stroke="#f2f2f2" stroke-width="3.2" fill="none" />
<rect x="1036.5" y="527" width="7" height="6.5" rx="1" fill="#f2f2f2"/>
<path d="M1038 530L1043 533" stroke="#111" stroke-width="1.8" fill="none" />
<path d="M1052 534L1052 543" stroke="#f2f2f2" stroke-width="3.4" fill="none" />
<path d="M1045 547.8L1056 547.8" stroke="#f2f2f2" stroke-width="3.4" fill="none" />
<path d="M1036 538L1036 546" stroke="#ddd" stroke-width="2.4" fill="none" />
<path d="M1040 546L1040 549" stroke="#f2f2f2" stroke-width="2.8" fill="none" />
<path d="M1027 536Q1030 548 1020 560" stroke="#ddd" stroke-width="2.1" fill="none" />
<path d="M1022 556L1030 551M1027 562L1037 553M1018 553L1018 562" stroke="#ddd" stroke-width="2.25" fill="none" />
<path d="M1014.5 500L1014.5 600" stroke="#111" stroke-width="3.0" fill="none" />
<circle cx="1085" cy="558.5" r="3.4" stroke="#111" stroke-width="3.2" fill="none"/>
<circle cx="1093" cy="558.5" r="3.4" stroke="#111" stroke-width="3.2" fill="none"/>
<circle cx="1101" cy="558.5" r="3.4" stroke="#111" stroke-width="3.2" fill="none"/>
<circle cx="1109" cy="558.5" r="3.4" stroke="#111" stroke-width="3.2" fill="none"/>
<path d="M1060 552.5L1117 552.5" stroke="#111" stroke-width="3.0" fill="none" />
<circle cx="1068.5" cy="560" r="5.6" stroke="#111" stroke-width="2.6" fill="#bbb"/>
<path d="M1064 558L1073 558M1064 562L1073 562M1068.5 555L1068.5 565" stroke="#111" stroke-width="1.8" fill="none" />
<path d="M1385 502L1431 502L1431 575L1427 574L1420 566L1410 560L1405 552L1398 548L1385 548Z" stroke="#111" stroke-width="1.5" fill="#fff" />
<path d="M1385 500L1385 548" stroke="#111" stroke-width="3.3" fill="none" />
<path d="M1388 503L1399 503L1399 548L1388 548Z" stroke="#111" stroke-width="1.5" fill="#222" />
<path d="M1391 508L1397 508" stroke="#ddd" stroke-width="1.95" fill="none" />
<path d="M1391 515L1397 515" stroke="#ddd" stroke-width="3.2" fill="none" />
<path d="M1393.5 520L1393.5 540" stroke="#ddd" stroke-width="2.4" fill="none" />
<path d="M1399 504L1408 504L1414 548L1402 548Z" stroke="#111" stroke-width="1.5" fill="#1c1c1c" />
<path d="M1404 504L1410 520L1414 510L1412 503Z" stroke="#111" stroke-width="1.5" fill="#fff" />
<path d="M1420 503L1431 570" stroke="#111" stroke-width="2.25" fill="none" />
<path d="M1424 503L1431 545" stroke="#111" stroke-width="3.8" fill="none" stroke-dasharray="1.5 2"/>
<path d="M1406 552L1416 552L1428 570L1428 574L1420 570L1410 566Z" stroke="#111" stroke-width="1.5" fill="#2a2a2a" />
<path d="M1410 556L1422 566" stroke="#ddd" stroke-width="1.8" fill="none" />
<path d="M1416 520Q1420 535 1418 548" stroke="#111" stroke-width="1.95" fill="none" />
<circle cx="1336" cy="558.5" r="3.4" stroke="#111" stroke-width="3.0" fill="none"/>
<circle cx="1344" cy="558.5" r="3.4" stroke="#111" stroke-width="3.0" fill="none"/>
<circle cx="1352" cy="558.5" r="3.4" stroke="#111" stroke-width="3.0" fill="none"/>
<circle cx="1360" cy="558.5" r="3.4" stroke="#111" stroke-width="3.0" fill="none"/>
<circle cx="1375" cy="558" r="5.2" stroke="#111" stroke-width="2.6" fill="none"/>
<path d="M1330 552.5L1385 552.5" stroke="#111" stroke-width="3.0" fill="none" />
<path d="M1366 552.5L1385 552.5" stroke="#111" stroke-width="4.3" fill="none" />
<path d="M1118 554L1330 554" stroke="#111" stroke-width="3.0" fill="none" stroke-dasharray="22 3 9 2"/>
<path d="M1117.5 555.5L1146 575.2L1171 575.2" stroke="#111" stroke-width="3.2" fill="none" />
<path d="M1124 556L1147 571.5L1150 566" stroke="#111" stroke-width="2.1" fill="none" />
<path d="M1131 555.5L1147.5 567.5" stroke="#111" stroke-width="2.6" fill="none" />
<circle cx="1145.5" cy="569.5" r="2.2" stroke="#111" stroke-width="2.25" fill="#fff"/>
<circle cx="1171.5" cy="569.5" r="2.2" stroke="#111" stroke-width="2.25" fill="#fff"/>
<path d="M1148 557L1153 570L1164 570L1169 557" stroke="#111" stroke-width="2.6" fill="#fff" />
<path d="M1152 560L1155.5 568.5L1161.5 568.5L1165 560Z" stroke="#111" stroke-width="0.0" fill="#c9c9c9" />
<path d="M1152 560L1165 560" stroke="#555" stroke-width="1.95" fill="none" />
<path d="M1148 575.2L1171 575.2" stroke="#111" stroke-width="2.1" fill="none" />
<path d="M1149 572L1170 572" stroke="#111" stroke-width="1.5" fill="none" />
<path d="M1173 574.5L1190 558L1200 555L1214 556L1226 556L1211 570.5Q1202 577 1192.5 578.3Q1180 578.5 1173 574.5Z" stroke="#111" stroke-width="1.8" fill="#131313" />
<path d="M1171 568L1189 556.5" stroke="#111" stroke-width="2.6" fill="none" />
<path d="M1174 572.5L1193 559.5L1189 556.5L1171 568Z" stroke="#111" stroke-width="1.2" fill="#fff" />
<path d="M1201.5 565Q1202 558 1206 557.5Q1209.5 558 1210 564Z" stroke="#111" stroke-width="0.0" fill="#f4f4f4" />
<rect x="1199" y="567.4" width="8.6" height="2.8" fill="#f4f4f4"/>
<rect x="1192.5" y="567" width="4" height="2.4" fill="#f4f4f4"/>
<circle cx="1184.5" cy="570.5" r="1.1" stroke="#111" stroke-width="0.0" fill="#bbb"/>
<circle cx="1184.5" cy="574.5" r="1.1" stroke="#111" stroke-width="0.0" fill="#bbb"/>
<path d="M1190.5 574.3L1196 574.3" stroke="#aaa" stroke-width="2.1" fill="none" />
<path d="M1212.5 569.5L1232.5 555.5" stroke="#111" stroke-width="2.4" fill="none" />
<path d="M1211 571.5L1238 553.5" stroke="#111" stroke-width="2.8" fill="none" />
<path d="M1196 562L1199 556M1214 562L1218 556" stroke="#ccc" stroke-width="1.8" fill="none" />
</g>
</svg>
</body></html>
